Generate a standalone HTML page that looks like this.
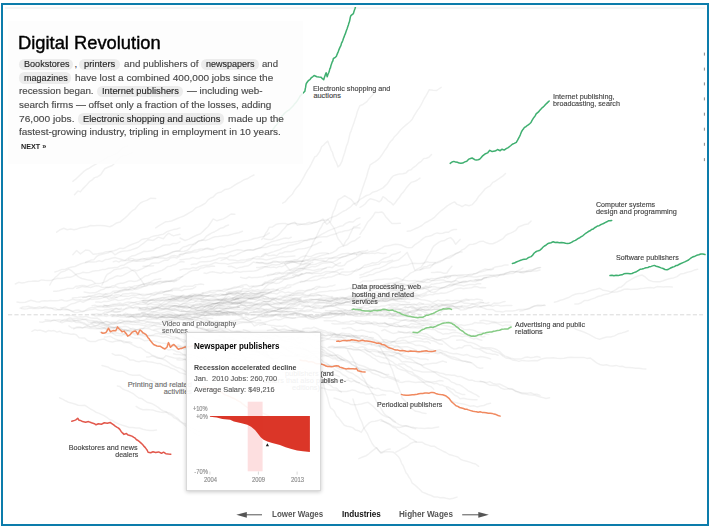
<!DOCTYPE html>
<html><head><meta charset="utf-8"><title>Digital Revolution</title>
<style>
html,body{margin:0;padding:0;background:#fff;}
body{width:710px;height:529px;position:relative;overflow:hidden;font-family:"Liberation Sans",sans-serif;}
#frame{position:absolute;left:1px;top:3px;width:704px;height:519px;border:2px solid #0c7cab;}
#topline{position:absolute;left:5px;top:7px;width:700px;height:1.6px;background:#f5f5f5;}
svg{position:absolute;left:0;top:0;}
.t{position:absolute;white-space:nowrap;display:block;-webkit-text-stroke:0.14px currentColor;}
.pill{position:absolute;background:#ececec;border-radius:5.5px;}
#panel{position:absolute;left:8px;top:21px;width:295.2px;height:142.8px;background:rgba(253,253,253,0.9);}
#tip{position:absolute;left:186px;top:332px;width:132.5px;height:157px;background:rgba(255,255,255,0.93);border:1px solid #d9d9d9;box-shadow:0 1px 4px rgba(0,0,0,0.22);box-sizing:content-box;}
.g{fill:none;stroke:#000;stroke-opacity:0.055;stroke-width:1.5;stroke-linejoin:round;stroke-linecap:round;}
.c{fill:none;stroke-width:1.5;stroke-linejoin:round;stroke-linecap:round;}
</style></head>
<body>
<div id="topline"></div>
<svg width="710" height="529" viewBox="0 0 710 529">
<defs><clipPath id="cp"><rect x="4" y="7" width="702" height="516"/></clipPath></defs>
<g clip-path="url(#cp)">
<g style="filter:blur(0.4px)">
<polyline class="g" points="72.8,181.4 75.7,179.2 78.5,176.5 81.3,173.9 84.2,171.1 86.8,169.3 89.3,168.2 91.9,166.3 94.5,164.8 97.7,163.1 100.8,161.4 104.0,159.7 107.2,157.1 110.6,156.1 114.0,154.6 117.4,153.1 120.1,150.3 122.7,148.0 125.3,146.4 128.0,146.0"/>
<polyline class="g" points="74.5,194.7 77.9,190.9 80.4,191.9 82.5,189.1 84.7,186.9 86.8,184.8 89.4,181.7 91.9,180.2 94.5,177.6 97.7,176.7 100.8,174.6 102.8,171.5 104.7,168.8 108.5,167.0 112.3,165.5 114.9,163.0 117.4,160.1 120.0,157.1 123.2,155.8 126.4,155.4 129.6,153.6 132.8,152.6"/>
<polyline class="g" points="56.7,232.2 60.2,229.7 63.8,228.2 67.2,229.7 70.6,229.0 74.0,229.7 77.4,228.9 80.8,227.7 84.2,227.2 87.4,226.7 90.6,225.5 93.8,225.7 97.0,225.6 100.8,225.6 104.7,225.7 109.8,226.7 113.2,225.2 116.6,222.9 120.0,222.1 122.6,219.9 125.1,217.9 127.7,215.5 130.2,212.7 132.8,210.3 135.3,208.8 137.9,205.5 140.4,203.0 143.0,201.6 146.8,200.4 150.6,198.2 155.7,198.5"/>
<polyline class="g" points="155.7,227.9 159.1,225.6 162.5,223.7 165.9,221.7 168.7,221.5 171.5,221.0 174.4,219.7 177.2,218.5 180.0,217.4 183.2,216.3 186.4,214.5 189.6,212.6 192.8,210.8 196.0,207.7 199.2,206.6 202.3,205.0 205.5,203.1 208.1,199.9 210.6,198.0 213.2,197.0 215.7,194.2 218.3,192.7 221.5,191.9 224.7,189.6 227.9,189.1 231.1,187.6 234.3,185.4 237.4,183.5 240.6,181.9 243.8,179.8 247.2,178.8 250.6,176.6 254.0,175.0"/>
<polyline class="g" points="72.8,254.7 76.6,250.5 80.4,253.9 83.0,252.0 85.5,250.1 89.4,250.5 93.2,254.2 97.7,253.7 102.1,253.1 105.9,251.7 109.8,251.4 112.3,252.3 114.9,254.8 118.1,252.8 121.3,251.5 124.5,251.1 127.7,250.7 131.1,249.9 134.5,248.7 137.9,247.5 140.4,245.5 143.0,243.7 145.6,241.5 148.1,239.7 153.2,240.4 158.3,237.1 163.4,238.7 165.9,235.6 168.5,233.2 171.1,234.7 173.6,235.9 176.8,234.9 180.0,234.3"/>
<polyline class="g" points="85.5,262.3 88.3,261.2 91.0,260.1 93.8,259.7 96.6,256.5 99.3,254.9 102.1,254.2 105.1,253.6 108.1,252.7 111.0,251.3 114.0,250.7 117.0,249.7 120.0,248.2 123.1,248.6 126.1,247.2 129.2,245.5 132.2,244.3 135.3,243.1 138.5,242.0 141.7,239.5 144.9,238.7 148.1,238.6 151.2,236.9 154.2,236.0 157.3,235.6 160.3,234.8 163.4,234.2 166.7,231.8 170.0,230.6 173.4,229.6 176.7,229.0 180.0,227.9"/>
<polyline class="g" points="54.9,272.0 58.4,270.9 61.9,269.4 65.4,269.3 68.9,267.8 72.0,267.0 75.0,266.5 78.1,265.0 81.1,263.8 84.2,262.9 87.2,262.3 90.2,261.7 93.2,262.0 96.1,261.8 99.1,260.7 102.1,261.6 105.3,259.6 108.5,259.3 111.7,258.2 114.9,257.5 118.3,258.6 121.7,259.4 125.1,260.4 128.3,258.1 131.5,256.1 134.7,255.6 137.9,254.0 141.0,252.7 144.0,251.3 147.1,251.5 150.1,250.9 153.2,250.6 156.4,248.5 159.6,247.4 162.7,245.6 165.9,245.1 169.4,245.1 172.9,243.5 176.5,243.6 180.0,241.9"/>
<polyline class="g" points="15.3,284.0 18.6,282.3 21.9,283.0 25.2,282.4 28.4,281.5 31.7,281.3 35.0,281.0 38.3,281.2 41.5,279.9 44.7,280.2 47.9,280.4 51.0,280.4 54.2,279.4 57.4,278.3 60.6,278.5 63.8,278.0 67.0,277.3 70.2,277.3 73.4,276.1 76.6,274.1 79.8,273.6 83.0,272.3 86.2,272.7 89.4,272.4 92.6,271.3 95.8,270.7 99.0,270.5 102.2,269.6 105.3,269.4 108.5,268.3 111.7,267.9 114.9,267.5 118.0,267.2 121.1,265.4 124.3,264.9 127.4,262.8 130.5,261.7 133.6,260.3 136.8,260.8 139.9,259.6 143.0,259.2 145.9,258.6 148.8,258.1 151.7,257.1 154.7,256.7 157.6,257.0 160.5,256.0 163.4,255.3 166.7,254.8 170.0,253.6 173.4,251.9 176.7,251.0 180.0,250.8"/>
<polyline class="g" points="49.8,285.0 52.3,280.5 54.9,277.7 57.0,276.0 59.2,273.7 61.3,271.9 65.1,270.9 68.9,269.1 72.1,271.2 75.3,274.1 78.5,276.9 81.7,278.5 85.0,279.2 88.3,280.1 91.7,280.6 95.0,283.0"/>
<polyline class="g" points="102.0,285.0 103.7,281.5 105.5,277.0 107.2,274.4 110.6,272.5 114.0,269.8 117.4,269.0 120.8,268.8 124.3,267.5 127.7,267.3 131.5,269.9 135.3,271.8 137.4,275.1 139.6,278.1 141.7,280.8 144.3,285.0"/>
<polyline class="g" points="143.0,266.2 146.1,266.2 149.1,265.4 152.2,263.2 155.2,263.1 158.3,263.1 161.4,261.6 164.4,260.2 167.5,260.3 170.5,257.9 173.6,257.2 176.8,258.0 180.0,256.0"/>
<polyline class="g" points="282.6,203.1 285.0,201.9 287.5,198.9 289.9,196.5 292.3,194.3 294.2,190.9 296.1,188.3 298.1,185.9 300.0,183.7 301.9,180.3 303.9,176.9 305.8,173.1 307.7,169.9 309.5,167.4 311.2,164.1 313.0,160.4 314.8,156.8 316.5,156.1 318.2,153.8 319.9,151.2 321.6,146.8 323.7,145.0 325.7,142.8 327.8,141.1 328.9,144.2 330.1,147.0 331.2,150.3 332.4,152.2 333.5,156.2 335.0,159.8 336.5,162.7 338.0,166.9 340.0,165.1 342.0,161.2 342.9,157.9 343.8,155.2 344.8,152.3 345.7,149.0 346.6,145.6 347.5,143.9 348.3,141.1 349.2,137.0 350.1,133.2 351.0,131.4 351.8,128.7 352.7,126.3 353.9,123.1 355.1,119.0 356.2,115.9 357.4,111.5 358.6,108.5 359.8,105.8 363.4,104.2 366.9,101.6 369.0,98.9 371.1,96.5 373.3,93.9 375.4,90.8"/>
<polyline class="g" points="180.0,238.0 185.0,240.5 188.9,239.1 192.8,237.0 196.6,235.2 200.4,233.8 203.0,231.4 205.5,228.9 208.1,226.5 209.8,224.0 211.5,221.5 213.2,218.9 217.0,220.8 220.2,219.8 223.4,218.9 227.2,216.6 231.1,214.0 234.9,214.3"/>
<polyline class="g" points="180.0,249.6 183.2,247.0 186.4,246.3 189.6,244.8 192.8,244.3 196.0,242.8 199.2,240.7 202.3,239.9 205.5,240.5 208.7,239.4 211.9,237.8 215.1,236.8 218.3,236.5 221.5,236.1 224.7,235.4 227.9,235.4 231.1,234.6 234.9,233.4 238.7,232.7 242.5,231.2"/>
<polyline class="g" points="180.0,254.7 182.9,254.7 185.8,252.8 188.7,251.8 191.7,251.4 194.6,250.2 197.5,249.8 200.4,249.0 204.0,248.9 207.6,248.0 211.1,248.9 214.7,248.5 218.3,247.4 221.3,246.5 224.3,247.2 227.2,245.7 230.2,245.3 233.2,244.9 236.2,243.9 239.2,242.1 242.1,241.4 245.1,240.8 248.1,240.5 251.0,239.7 254.0,238.5 257.4,238.0 260.8,237.1 264.2,236.1 269.4,233.0"/>
<polyline class="g" points="264.2,238.8 268.0,239.6 271.9,239.5 277.0,236.2 279.6,233.9 282.1,230.7 284.6,228.3 287.2,225.0 291.0,223.4 294.9,222.3 297.4,225.3 302.6,224.0 306.0,223.5 309.4,222.3 312.8,223.3 316.2,222.1 319.6,221.1 323.0,219.0 324.9,222.0 326.8,224.3 330.6,221.3 331.5,218.9 332.3,214.7 333.2,212.0 334.5,209.7 335.8,205.9 337.0,202.4 338.3,199.6 341.5,197.9 344.7,195.7 347.9,197.6 351.1,199.4 353.6,202.5 356.2,205.4 357.5,203.0 358.7,200.3 360.0,196.1 361.3,192.3 362.5,188.4 363.8,184.7 364.7,182.1 365.6,179.5 366.5,177.0 367.5,173.2 368.4,169.9 369.3,167.5 370.2,164.8 372.8,163.1 375.3,161.6 377.9,159.6 379.8,157.7 381.6,155.3 383.4,152.6 385.3,149.7 387.1,147.3 389.0,143.6 390.8,141.3 392.6,139.6 394.4,136.7 396.3,135.0 398.1,133.0 400.5,130.0 402.8,127.8 405.2,125.6 407.6,123.7 409.9,121.7 412.3,119.2 414.0,115.9 415.7,113.2 417.4,110.4 419.1,108.1 420.8,105.3 422.5,102.0 424.2,98.5 425.9,95.8 427.6,92.8 429.3,89.7 432.9,90.3 436.4,90.6 438.8,89.0 441.2,87.4"/>
<polyline class="g" points="261.7,239.4 263.6,237.3 265.5,233.5 267.5,230.7 269.4,227.2 272.6,226.9 275.8,224.6 278.9,223.8 282.1,223.6 285.3,223.6 288.5,224.4 291.7,223.5 294.9,223.3 298.1,223.7 301.3,224.2 304.5,224.5 307.7,224.5 310.8,223.8 313.8,222.2 316.9,222.2 319.9,220.7 323.0,220.2 326.4,220.1 329.8,218.2 333.2,216.8 336.4,215.7 339.6,213.7 342.8,211.5 346.0,210.1 348.3,208.4 350.7,206.8 353.0,204.2 355.3,203.3 357.7,201.9 360.0,199.4 363.2,197.6 366.4,195.5 369.6,194.6 372.8,192.2 376.2,191.3 379.6,189.6 383.0,187.9 385.0,185.9 387.1,184.0 389.1,181.1 391.2,178.0 393.2,175.9 396.4,174.8 399.6,173.9 402.8,173.7 406.0,172.9 408.5,170.4 411.1,169.7 413.6,167.3 416.2,165.6 418.7,163.0 421.3,161.3 423.8,158.6 426.4,158.3 428.9,157.3 431.5,154.6"/>
<polyline class="g" points="261.7,256.0 264.8,253.6 267.8,253.7 270.9,252.5 273.9,251.6 277.0,250.5 280.0,249.5 283.0,247.9 285.9,247.2 288.9,245.5 291.9,244.9 294.9,244.3 297.9,243.6 300.9,242.3 303.9,240.8 306.8,240.0 309.8,238.8 312.8,238.7 315.9,237.6 318.9,236.0 322.0,234.2 325.0,232.6 328.1,230.9 331.1,229.6 334.1,228.5 337.1,227.4 340.0,226.2 343.0,225.7 346.0,223.2 349.5,221.8 353.0,222.0 356.5,219.0 360.0,217.7"/>
<polyline class="g" points="300.0,264.9 301.9,261.8 303.9,258.8 305.8,255.4 307.7,252.3 309.6,249.1 311.5,246.3 313.4,241.8 315.3,238.5 316.8,235.8 318.4,232.3 319.9,229.0 321.5,226.8 323.0,223.4 325.6,221.5 328.1,219.3 329.8,221.9 331.5,224.6 333.2,226.9 334.5,229.2 335.8,232.6 337.0,236.2 338.3,239.1 340.9,242.3 343.4,246.0 345.1,242.4 346.8,239.9 348.5,237.9 350.2,233.8 351.9,230.3 353.6,226.7 356.8,226.2 360.0,224.0"/>
<polyline class="g" points="180.0,259.8 183.2,259.4 186.4,259.1 189.6,258.8 192.8,257.5 195.9,258.4 199.1,258.5 202.3,256.9 205.5,257.3 208.7,256.5 211.9,256.1 215.1,255.6 218.3,254.0 221.5,253.5 224.7,253.9 227.9,252.7 231.1,251.5 234.3,250.5 237.5,249.8 240.7,250.1 243.9,250.8 247.0,250.3 250.2,249.7 253.4,250.3 256.6,248.9 259.8,247.8 263.0,247.6 266.2,247.4 269.4,246.1 272.5,245.1 275.7,245.1 278.9,244.9 282.1,243.7 285.3,243.3 288.5,242.6 291.7,242.5 294.9,241.8 298.1,241.2 301.3,240.4 304.5,240.5 307.7,240.4 310.9,239.2 314.1,238.8 317.3,237.5 320.4,236.9 323.6,236.7 326.8,236.7 330.0,235.4 333.2,234.5 336.2,233.8 339.2,232.2 342.1,231.8 345.1,230.8 348.1,230.6 351.1,229.3 354.0,227.8 357.0,227.7 360.0,227.9"/>
<polyline class="g" points="284.7,263.6 287.2,267.1 289.8,270.0 293.2,268.4 296.6,267.5 300.0,265.4 303.2,264.4 306.4,263.7 309.6,263.4 312.8,262.3"/>
<polyline class="g" points="180.0,270.0 183.2,269.1 186.4,268.7 189.6,269.0 192.8,267.6 195.9,268.2 199.1,266.7 202.3,265.8 205.5,265.2 208.7,265.3 211.9,264.0 215.1,262.6 218.3,263.2 221.5,263.4 224.7,263.4 227.9,264.3 231.1,263.4 234.3,262.8 237.5,262.7 240.7,262.2 243.9,262.4 247.0,260.9 250.2,260.3 253.4,258.2 256.6,259.1 259.8,258.8 263.0,259.3 266.2,260.1 269.4,259.3 272.5,258.5 275.7,257.8 278.9,257.0 282.1,256.5 285.3,256.9 288.5,256.6 291.7,256.3 294.9,256.0"/>
<polyline class="g" points="256.6,267.4 259.8,267.5 263.0,266.7 266.2,266.5 269.4,265.7 272.5,264.5 275.7,265.1 278.9,264.6 282.1,263.4 285.3,263.6 288.5,263.1 291.7,261.6 294.9,262.2 298.1,261.7 301.3,261.5 304.5,260.9 307.7,260.1 310.9,258.1 314.1,258.0 317.3,257.0 320.4,255.8 323.6,255.1 326.8,254.1 330.0,253.5 333.2,252.2 335.9,250.6 338.6,247.9 341.2,246.6 343.9,245.8 346.6,245.1 349.3,243.1 352.0,241.4 354.6,240.8 357.3,238.7 360.0,236.8"/>
<polyline class="g" points="360.0,207.4 362.6,205.8 365.1,204.0 367.6,200.9 370.2,198.7 373.2,199.5 376.1,200.4 379.1,201.8 381.1,200.3 383.0,196.7 385.6,198.3 388.1,200.8 390.6,202.3 393.2,204.9 395.2,202.7 397.3,199.8 399.3,197.5 401.4,194.0 403.4,192.1 406.0,188.3 408.5,185.3 411.1,182.4 414.9,181.2 417.4,180.0 420.0,178.1"/>
<polyline class="g" points="360.0,234.3 361.9,231.3 363.9,228.9 365.8,225.3 367.7,222.1 370.2,219.5 372.8,216.3 375.3,212.2 378.5,212.5 381.7,211.9 383.6,213.3 385.5,216.4 387.6,218.8 389.8,221.3 391.9,223.6 396.1,223.4 400.3,223.3"/>
<polyline class="g" points="407.2,231.2 411.0,230.7 414.9,228.8 418.7,227.2 421.9,225.5 425.1,222.7 428.3,221.2 431.5,219.4 434.1,217.7 436.6,215.1 439.2,212.5 441.7,210.3 444.3,208.3 446.9,206.2 449.4,204.5 451.9,203.2 454.5,201.9 457.0,204.4 459.6,205.2 462.1,206.7 465.5,204.7 468.9,205.7 472.3,204.6 474.4,202.2 476.4,200.0 478.5,196.6 480.5,194.5 482.6,192.0 485.2,188.8 487.7,187.2 490.2,185.8 492.8,182.4 495.3,181.2 497.9,179.4 500.4,177.7 503.0,175.9 505.5,173.5"/>
<polyline class="g" points="360.0,275.0 363.2,274.2 366.4,272.5 369.6,271.7 372.8,269.8 376.0,268.5 379.1,268.3 382.3,266.9 385.5,265.3 388.7,263.2 391.9,261.7 395.1,260.8 398.3,260.1 401.3,257.7 404.2,255.2 407.2,252.4 409.1,256.9 411.1,260.1 412.4,263.1 413.6,267.0 414.9,270.3 418.1,268.7 421.3,267.1 422.9,264.5 424.5,262.4 426.1,260.0 427.7,256.7 429.3,254.3 430.9,251.5 432.4,248.1 434.0,245.8 436.6,243.9 439.1,242.1 441.7,240.9 444.7,240.4 447.6,238.6 450.6,237.6 453.1,240.0 455.7,244.3 460.1,239.4"/>
<polyline class="g" points="420.0,270.0 423.3,268.8 426.6,267.9 430.0,267.7 433.3,264.4 436.6,263.1 439.8,262.0 443.0,260.3 446.2,258.4 449.4,258.1 452.6,256.2 455.8,253.5 458.9,252.5 462.1,249.9 464.7,248.8 467.2,246.4 469.8,244.4 473.2,244.3 476.6,243.2 480.0,241.4 483.2,241.2 486.4,242.8 489.6,243.8 492.8,243.7 496.2,242.3 499.6,240.5 503.0,238.7 505.6,235.5 508.1,234.0 510.6,233.1 513.2,231.8 515.8,230.4 518.3,227.0 521.5,225.7 524.7,224.5 527.9,224.1 531.1,221.0"/>
<polyline class="g" points="360.0,277.7 363.2,276.6 366.4,276.2 369.6,274.8 372.8,274.5 375.9,272.8 379.1,272.0 382.3,270.7 385.5,270.0 388.7,268.8 391.9,267.3 395.1,267.5 398.3,266.9 401.5,265.8 404.7,265.2 407.9,264.9 411.1,263.4 414.3,263.2 417.5,263.5 420.7,263.5 423.9,263.0 427.0,261.7 430.2,262.6 433.4,262.6 436.6,262.4 439.4,261.1 442.3,260.1 445.1,258.7 447.9,257.1 450.8,255.8 453.6,254.7 456.4,253.5 459.3,252.1 462.1,252.1"/>
<polyline class="g" points="431.5,272.5 434.6,272.4 437.6,271.9 440.7,272.3 443.7,273.2 446.8,273.0 449.4,269.3 451.9,266.2"/>
<polyline class="g" points="444.3,277.7 447.9,276.3 451.4,275.8 455.0,275.7 458.5,275.1 462.1,274.8 465.5,274.7 468.9,274.4 472.4,274.0 475.8,273.4 479.2,272.3 482.6,271.5 485.8,270.5 489.0,269.5 492.2,268.7 495.4,267.0 498.5,266.5 501.7,266.0 504.9,264.9 508.1,264.9"/>
<polyline class="g" points="474.9,280.2 478.1,279.6 481.3,280.1 484.5,277.6 487.6,277.1 490.8,275.7 494.0,276.1 497.2,277.0 500.4,274.5 503.6,274.3 506.8,274.3 510.0,273.6 513.2,273.4 516.4,271.6 519.6,272.1 522.8,271.9 526.0,271.4 529.5,270.0 533.0,269.5 536.5,268.2 540.0,267.4"/>
<polyline class="g" points="360.0,282.8 363.1,280.9 366.1,280.9 369.2,280.9 372.2,280.9 375.3,279.9 378.4,279.5 381.4,279.4 384.5,278.9 387.5,279.0 390.6,279.3 393.7,278.5 396.7,277.7 399.8,278.8 402.9,280.1 406.0,280.6 409.0,281.0 412.1,280.7 415.2,280.5 418.2,281.5 421.3,281.2 424.4,279.7 427.4,279.0 430.5,280.2 433.5,280.4 436.6,278.8 439.7,277.5 442.7,277.1 445.8,276.0 448.8,276.2 451.9,275.4 455.0,274.9 458.0,276.1 461.1,275.8 464.2,276.2 467.2,276.4 470.3,276.5 473.4,277.0 476.5,276.9 479.5,276.2 482.6,275.8 485.7,275.3 488.7,275.1 491.8,275.2 494.8,275.1 497.9,275.1 501.0,274.6 504.0,273.7 507.1,272.9 510.1,271.5 513.2,271.5 516.6,271.8 519.9,272.0 523.2,271.5 526.6,271.1 530.0,271.4 533.3,270.9 536.6,270.9 540.0,270.0"/>
<polyline class="g" points="520.0,272.6 523.7,272.9 527.3,271.8 531.0,271.1 534.2,269.5 537.4,268.1 540.6,267.6"/>
<polyline class="g" points="554.3,302.2 557.3,301.5 560.3,300.3 563.4,299.5 566.4,298.2 569.4,297.2 572.7,295.2 576.0,294.0 579.2,293.5 582.5,293.5 585.8,292.4 589.2,291.0 592.6,290.1 596.1,289.2 599.5,288.2 603.2,290.3 606.8,290.7 610.5,291.7 613.9,292.2 617.4,291.7 620.8,290.7 624.2,289.3 627.5,289.1 630.8,289.6 634.0,289.2 637.3,289.3 640.6,288.5 643.9,288.3 647.2,287.7 650.5,287.6 653.8,288.0 657.1,286.6 660.1,286.7 663.1,287.0 666.2,286.7 669.2,286.7 672.2,287.1"/>
<polyline class="g" points="574.8,304.1 578.1,304.0 581.4,302.7 584.7,300.4 588.0,300.5 591.3,299.1 594.6,298.1 597.9,296.5 601.1,295.8 604.4,294.5 607.7,294.1 610.4,292.9 613.2,291.2 615.9,289.7 618.7,287.6 621.4,286.9 624.1,284.6 626.9,281.8 629.6,280.4 632.4,278.6 635.6,277.0 638.8,275.8 642.0,275.0 645.5,277.2 648.9,280.2 652.5,281.4 656.2,281.8 659.8,281.7 663.2,280.7 666.6,279.5 670.1,278.5 673.5,277.9 677.0,276.6 680.4,274.1 683.8,273.5 687.3,272.2 690.8,271.6 694.2,270.1 697.7,269.3"/>
<polyline class="g" points="520.0,311.0 523.4,310.4 526.9,309.1 530.3,307.8 533.7,306.2 537.5,305.1 541.4,305.3 545.2,305.5"/>
<polyline class="g" points="569.4,327.4 573.0,327.3 576.7,329.6 580.3,330.8 584.4,332.3 588.5,334.1 592.2,336.1 595.8,338.1 599.5,339.2 603.2,338.0 606.8,337.0 610.5,337.0 614.6,335.9 618.7,333.7 621.9,332.9 625.1,332.0 628.3,330.7"/>
<polyline class="g" points="480.0,348.6 483.2,348.3 486.5,349.0 489.7,349.2 493.0,351.0 496.2,352.0 499.4,353.1 502.7,355.8 505.9,358.0 509.2,358.4 512.4,359.9 515.7,360.4 518.9,361.4 522.1,360.4 525.4,360.8 528.6,361.1 531.6,360.8 534.6,360.5 537.6,360.7 540.6,359.3 543.6,358.6 546.6,357.9 549.6,357.9 553.2,357.8 556.9,358.3 560.6,358.4 564.2,358.3 567.5,357.6 570.7,357.2 574.0,357.6 577.2,357.6 580.4,357.6 583.7,357.4 586.9,358.4 590.1,357.9 593.4,360.3 596.6,362.9 599.9,364.5 603.1,365.2 606.4,364.7 609.6,365.7 612.8,366.0 616.1,365.4 619.3,366.4 622.5,366.3 625.8,367.6 629.0,367.5 632.3,367.8 635.7,368.3 639.1,368.3 642.5,368.8 645.9,369.0"/>
<polyline class="g" points="480.0,381.0 483.2,381.9 486.5,382.6 489.7,381.6 492.9,383.4 496.2,384.2 499.4,383.9 502.6,385.5 505.9,387.1 509.1,388.9 512.4,389.3 515.6,391.4 518.9,391.8 522.1,393.8 525.4,394.0 528.6,394.8 531.9,395.1 535.1,395.2 538.7,396.5 542.4,397.4 546.0,398.5 549.6,397.8"/>
<polyline class="g" points="480.0,321.0 483.2,320.3 486.5,320.8 489.8,321.3 493.0,321.7 496.6,322.3 500.1,322.4 503.7,322.1 507.2,322.1 510.8,322.0"/>
<polyline class="g" points="480.0,306.5 483.2,307.9 486.5,309.2 489.7,309.5 493.0,309.6 496.2,311.6 499.4,311.6 502.7,312.1 505.9,310.9 509.1,310.9 512.4,311.0 515.6,310.4 518.8,309.6 522.1,309.5 525.3,309.3 528.6,309.1 531.8,307.3 535.0,305.9 538.3,305.9 541.5,305.9 544.8,304.9"/>
<polyline class="g" points="59.5,397.8 62.5,399.1 65.5,400.8 68.4,402.2 71.4,403.0 74.8,404.0 78.2,405.2 81.6,405.5 85.0,405.3 87.7,407.2 90.4,409.0 93.2,410.4 95.9,412.2 98.6,413.1 101.3,414.4 104.0,415.6 106.8,417.4 109.5,419.5 112.2,420.4 115.6,422.6 119.1,424.1 122.5,425.2 125.9,426.2 129.3,427.5 132.7,427.6 136.1,427.9 139.5,428.0 142.9,429.2 146.3,430.1 149.7,430.4 153.1,430.5 156.5,430.1"/>
<polyline class="g" points="117.3,385.9 120.0,386.6 122.7,389.0 125.4,390.1 128.0,391.0 130.7,392.4 133.4,393.7 136.1,396.0 138.8,398.0 141.5,398.4 144.3,400.4 147.0,402.2 149.7,403.0 152.4,403.8 155.1,405.4 157.9,407.1 160.6,409.4 163.3,411.0 166.0,411.7 168.7,414.1 171.5,415.2 174.2,417.9 176.9,419.1 179.7,421.3 182.6,423.4 185.4,425.8 188.3,428.7 191.2,431.0 194.2,433.0 197.1,434.7 200.0,436.0"/>
<polyline class="g" points="102.0,365.5 104.8,366.2 107.7,366.9 110.5,368.7 113.3,369.5 116.2,370.5 119.0,371.3 122.4,371.2 125.8,372.9 129.3,374.6 132.7,375.3 136.1,375.3 139.5,375.0 142.9,376.8 146.3,378.9 149.7,380.0 153.1,381.4 156.5,382.7 159.9,383.5 163.3,383.4 166.7,384.4 170.1,385.2 173.2,385.3 176.2,386.5 179.3,387.3 182.3,389.0 185.4,390.9 188.7,391.5 191.9,391.8 195.2,394.3 198.5,395.8 201.7,397.7 205.0,398.0"/>
<polyline class="g" points="136.1,406.3 139.5,408.5 142.9,409.7 146.3,409.4 149.7,409.8 153.1,410.1 156.5,411.2 159.9,412.1 163.3,412.4 166.7,412.1 170.1,413.3 172.7,414.7 175.2,416.8 177.8,418.5 180.3,421.0 182.8,422.9 185.4,423.8 188.3,425.5 191.2,428.1 194.2,429.0 197.1,430.8 200.0,432.0"/>
<polyline class="g" points="112.2,353.6 115.2,355.2 118.2,355.0 121.2,355.3 124.2,356.6 127.1,357.8 130.1,360.1 133.1,359.9 136.1,361.2 139.1,361.8 142.1,360.9 145.0,361.0 148.0,361.8 151.0,362.1 153.9,362.6 156.9,363.4 159.9,363.4 162.7,364.9 165.6,365.7 168.4,366.7 171.2,368.3 174.1,369.1 176.9,370.6 179.7,372.6 182.6,373.4 185.4,374.2 188.5,375.3 191.6,375.6 194.6,376.9 197.7,376.7 200.8,377.9 203.8,378.3 206.9,378.7 210.0,380.0"/>
<polyline class="g" points="352.9,398.9 354.0,402.5 355.1,405.6 356.2,409.0 357.3,410.9 358.5,414.4 359.8,417.9 361.0,420.3 362.2,422.9 363.5,427.0 364.7,429.4 366.2,431.7 367.7,434.2 369.1,437.5 370.6,440.5 372.1,443.5 374.3,446.5 376.6,448.1 378.8,450.4 381.0,453.2 384.9,451.7 388.9,451.7 392.8,452.0 394.8,453.2 396.7,455.0 398.7,457.1 400.2,459.4 401.6,463.3 403.1,465.5 404.6,469.3 406.1,473.0 407.6,474.6 409.0,477.3 410.5,479.2 412.0,482.8 414.6,484.8 417.2,487.1 419.8,489.5 422.4,492.1 425.3,493.2 428.3,494.5 431.2,495.5 434.2,497.0 437.2,496.9 440.1,497.8 443.1,497.5 446.1,498.3 449.7,499.1 453.4,498.2 457.0,497.1"/>
<polyline class="g" points="320.4,374.3 321.3,376.9 322.3,379.3 323.2,382.5 324.1,386.4 325.0,389.8 326.0,392.8 326.9,395.4 327.8,398.1 328.7,402.3 329.7,405.5 330.6,407.9 332.6,409.3 334.5,411.6 336.5,416.0 338.4,417.6 340.4,420.2 342.3,422.8 344.3,425.2 347.1,426.2 350.0,426.7 352.8,427.6 355.6,430.1 358.5,430.7 361.3,432.4 363.3,429.0 365.2,426.7 367.2,424.7 369.2,422.9 372.1,421.4 375.1,421.2 378.1,420.6 381.0,419.4 384.0,421.7 386.9,423.1 389.9,424.8 392.8,427.3 395.8,428.2 398.8,431.1 401.7,433.2 404.7,434.3 407.6,436.2 410.6,438.6 413.5,439.9 416.5,442.3 419.4,442.2 422.4,442.3 425.4,444.3 428.3,445.1 431.2,446.2 434.2,446.2 437.2,448.1 440.1,449.6 443.1,451.2 446.0,452.5 449.0,454.5 452.0,455.3 454.9,456.1 457.9,457.0 460.8,459.5 463.8,460.6 466.8,461.2 469.7,462.1 472.7,463.3 475.6,464.0 478.6,466.3"/>
<polyline class="g" points="358.8,458.6 362.5,457.0 366.2,455.7 368.8,453.8 371.4,451.6 374.0,449.6 376.6,447.7 378.8,450.8 381.0,452.5 384.1,451.1 387.1,449.6 390.2,449.1"/>
<polyline class="g" points="381.0,421.1 384.0,421.4 386.9,422.8 389.9,424.0 392.8,426.0 395.8,426.9 399.5,427.4 403.2,426.5 406.9,425.7 410.6,426.9 414.1,427.5 417.7,428.0 421.2,428.2 424.8,428.6 428.3,428.1 431.8,428.3 435.2,427.4 438.7,427.0"/>
<polyline class="g" points="416.5,441.8 413.5,442.2 410.6,443.4 407.6,446.0 404.7,447.5 401.7,448.8 398.8,450.6 395.8,452.1"/>
<polyline class="g" points="334.0,398.1 337.4,399.0 340.8,400.1 344.3,402.0 347.7,402.7 351.1,404.6 354.5,404.7 357.9,404.5 361.3,404.0 364.7,403.0 368.1,402.3 370.7,404.4 373.2,406.4 375.8,409.0 378.3,411.3 381.1,414.0 384.0,415.8 386.8,417.0 389.6,417.5 392.5,419.6 395.3,421.9"/>
<polyline class="g" points="398.7,364.0 401.6,364.0 404.5,364.1 407.4,366.2 410.4,367.4 413.3,370.0 416.2,370.6 419.1,371.2 422.5,372.1 425.9,372.0 429.3,372.1 432.8,372.0 436.2,371.8 439.6,373.0 443.0,373.5 445.9,374.8 448.8,374.8 451.7,375.2 454.7,375.3 457.6,376.6 460.5,376.4 463.4,377.7 466.3,379.0 469.2,380.3 472.1,380.1 475.1,381.3 478.0,381.4 480.9,381.7 483.8,381.8 486.7,383.6 489.7,385.2 492.6,385.2 495.5,385.4 498.4,386.1 501.4,388.3 504.3,389.2 507.2,389.1 510.1,388.6 513.0,389.3 516.0,391.0 518.9,392.7 521.8,392.8 524.7,392.9 527.8,393.2 530.8,392.7 533.9,394.2 536.9,394.2 540.0,395.4"/>
<polyline class="g" points="436.2,350.4 439.6,349.8 443.0,351.2 446.4,351.7 449.8,353.1 453.2,353.8 456.6,353.5 460.0,354.4 463.4,355.3 466.8,354.4 470.2,356.0 473.6,356.7 477.0,357.4 480.4,356.6 483.8,357.0 487.2,357.7 490.6,358.9"/>
<polyline class="g" points="456.6,340.2 459.5,340.0 462.4,340.0 465.3,341.2 468.3,342.6 471.2,342.6 474.1,343.5 477.0,344.9 479.9,346.7 482.8,347.5 485.7,347.8 488.7,347.7 491.6,348.1 494.5,348.8 497.4,350.0 500.0,351.8 502.5,354.5 505.1,356.1 507.7,357.0 511.1,358.3 514.5,359.0 517.9,359.1 521.3,358.9 524.4,357.6 527.5,357.1 530.6,357.8 533.8,357.2 536.9,356.4 540.0,357.2"/>
<polyline class="g" points="446.4,387.9 449.1,390.4 451.8,392.6 454.6,395.2 457.3,396.3 460.0,398.8 463.4,398.3 466.8,399.1 470.2,399.4 473.6,399.8 477.0,399.8"/>
<polyline class="g" points="449.8,399.8 452.7,401.4 455.6,402.6 458.5,403.3 461.5,403.7 464.4,404.3 467.3,405.1 470.2,406.2 473.6,405.8 477.0,406.9 480.4,406.1 483.8,405.5 487.2,404.0 490.6,403.2"/>
<polyline class="g" points="334.0,369.1 336.9,370.8 339.9,372.0 342.8,374.8 345.7,376.0 348.6,378.3 351.6,378.5 354.5,380.5 357.4,382.1 360.3,383.5 363.2,385.1 366.2,386.3 369.1,387.5 372.0,387.5 374.9,388.7 377.9,388.2 380.8,389.7 383.8,390.6 386.8,391.0 389.8,391.1 392.8,391.5 395.7,393.2 398.7,393.0"/>
<polyline class="g" points="378.3,352.1 381.3,353.9 384.2,353.8 387.2,353.9 390.2,355.3 393.2,356.3 396.2,357.5 399.1,359.1 402.1,362.0 405.5,361.6 408.9,362.0 412.4,362.6 415.8,363.0 419.2,364.1 422.6,365.3 426.0,363.9 429.4,363.7 432.8,363.2 436.2,363.2 439.6,362.0 443.0,361.1 446.4,362.3"/>
<polyline class="g" points="317.0,343.6 319.6,345.6 322.1,347.2 324.6,347.5 327.2,349.5 329.8,351.1 332.3,352.4 334.8,354.2 337.4,356.8 340.3,358.7 343.3,360.1 346.2,361.9 349.1,362.9 352.0,364.4 355.0,365.9 357.9,367.7 360.8,368.5 363.7,369.4 366.6,370.3 369.6,370.9 372.5,373.3 375.4,374.2 378.3,375.1 381.3,376.9 384.2,377.8 387.2,377.1 390.2,378.2 393.2,379.3 396.2,380.9 399.1,381.9 402.1,382.5 405.5,381.6 408.9,381.3 412.4,381.9 415.8,382.5 419.2,382.1 422.6,382.3 426.0,382.0 429.4,382.0 432.8,382.0 436.2,381.5 439.6,380.6 443.0,381.1"/>
<polyline class="g" points="378.3,343.6 380.0,346.9 381.7,350.1 383.4,352.9 385.1,355.7 386.8,358.5 388.5,360.6 389.7,363.9 390.9,367.2 392.1,369.3 393.4,373.4 394.6,377.0 395.8,380.2 397.0,383.4 398.0,386.3 399.0,388.8 400.1,391.5 401.1,394.4 402.1,398.0 404.7,400.6 407.2,403.5 409.8,404.8 412.3,409.0 415.7,411.3 419.1,411.8 422.6,413.1 426.0,413.4"/>
<polyline class="g" points="347.7,350.4 349.2,353.0 350.7,355.6 352.2,357.9 353.7,360.8 355.3,363.5 356.8,366.4 358.3,368.6 359.8,371.4 361.3,374.2 362.8,377.2 364.3,379.2 365.8,382.2 367.3,385.4 368.9,388.2 370.4,390.4 371.9,392.7 373.4,395.2 374.9,398.4 376.6,401.9 378.3,404.3 380.0,406.6 381.7,409.6 383.4,412.5 385.1,414.7 387.8,416.5 390.5,418.7 393.3,421.3 396.0,422.7 398.7,424.4 402.1,425.7 405.5,425.8 408.9,426.9 412.3,427.9 415.7,428.7"/>
<polyline class="g" points="63.6,315.7 66.4,315.2 69.2,315.7 71.9,315.3 74.7,316.0 77.5,317.2 80.3,316.7 83.1,317.0 85.8,316.3 88.6,317.2 91.4,318.1 94.2,318.3 96.9,318.0 99.7,319.6 102.5,322.0 105.3,324.2 108.1,325.4 110.8,323.7 113.6,322.3 116.4,322.1 119.2,320.0 121.9,320.2 124.7,321.2 127.5,321.4 130.3,321.9 133.1,321.4 135.8,320.5 138.6,320.6 141.4,320.7 144.2,321.0 146.9,321.7 149.7,321.8 152.5,322.2 155.3,322.7 158.1,322.8 160.8,324.3 163.6,324.5"/>
<polyline class="g" points="103.0,306.6 105.8,305.5 108.6,305.8 111.3,305.8 114.1,304.7 116.9,304.8 119.7,304.6 122.5,304.9 125.2,304.4 128.0,304.4 130.8,303.1 133.6,302.4 136.3,303.3 139.1,304.2 141.9,304.3 144.7,304.0 147.5,305.0 150.2,303.2 153.0,302.3 155.8,302.3 158.6,302.1 161.3,300.6 164.1,298.9 166.9,299.9 169.7,299.7 172.5,298.8 175.2,298.6 178.0,299.0 180.8,296.7 183.6,297.5 186.3,297.7 189.1,295.8 191.9,296.2 194.7,294.7 197.5,295.4 200.2,295.3 203.0,296.5"/>
<polyline class="g" points="167.0,314.6 169.8,314.6 172.6,315.6 175.4,315.0 178.2,315.6 180.9,314.8 183.7,315.1 186.5,313.4 189.3,313.6 192.0,313.5 194.8,313.1 197.6,312.8 200.4,312.7 203.2,312.3 205.9,311.0 208.7,311.2 211.5,311.3 214.3,311.5 217.0,311.2 219.8,311.6 222.6,312.5 225.4,312.3 228.2,312.0 230.9,313.1 233.7,313.6 236.5,313.9 239.3,314.3 242.0,313.5 244.8,313.1 247.6,313.6 250.4,312.8 253.2,312.4 255.9,312.5 258.7,312.5 261.5,312.1 264.3,312.6 267.0,312.2"/>
<polyline class="g" points="202.1,292.7 204.8,292.6 207.6,291.6 210.4,290.8 213.2,290.4 215.9,290.6 218.7,290.3 221.5,290.6 224.3,289.2 227.1,289.3 229.8,289.3 232.6,288.5 235.4,288.1 238.2,286.9 240.9,285.6 243.7,285.0 246.5,284.5 249.3,286.7 252.1,286.0 254.8,287.0 257.6,286.4 260.4,285.5 263.2,284.7 265.9,282.7 268.7,282.2 271.5,281.4 274.3,279.4 277.1,279.3 279.8,279.1 282.6,278.7 285.4,279.1 288.2,277.8 290.9,277.4 293.7,277.1 296.5,275.6 299.3,275.8 302.1,274.0"/>
<polyline class="g" points="381.8,330.8 384.6,329.5 387.3,331.0 390.1,332.3 392.9,333.4 395.7,333.1 398.4,332.2 401.2,331.9 404.0,333.0 406.8,332.8 409.6,331.8 412.3,332.8 415.1,333.6 417.9,333.0 420.7,332.8 423.4,333.9 426.2,333.6 429.0,335.3 431.8,336.9 434.6,339.4 437.3,339.9 440.1,339.9 442.9,338.7 445.7,338.8 448.4,338.0 451.2,336.4 454.0,335.7 456.8,336.0 459.6,336.1 462.3,336.7 465.1,336.1 467.9,336.1 470.7,337.9 473.4,338.9 476.2,338.2 479.0,339.5 481.8,340.3"/>
<polyline class="g" points="168.3,321.2 171.0,320.6 173.8,322.2 176.6,322.6 179.4,322.1 182.1,322.9 184.9,323.3 187.7,324.7 190.5,325.0 193.3,325.6 196.0,327.7 198.8,328.1 201.6,328.7 204.4,329.7 207.1,330.2 209.9,331.8 212.7,332.0 215.5,333.0 218.3,335.8 221.0,335.8 223.8,336.5 226.6,338.1 229.4,337.7 232.1,337.4 234.9,338.5 237.7,340.8 240.5,342.2 243.3,343.1 246.0,343.7 248.8,347.0 251.6,348.3 254.4,348.6 257.1,350.9 259.9,352.8 262.7,353.0 265.5,352.8 268.3,355.6"/>
<polyline class="g" points="92.1,305.8 94.9,305.3 97.7,306.2 100.4,305.8 103.2,306.1 106.0,305.8 108.8,305.4 111.5,304.4 114.3,304.1 117.1,303.7 119.9,303.0 122.7,304.1 125.4,302.7 128.2,302.0 131.0,302.2 133.8,302.7 136.5,301.8 139.3,301.4 142.1,300.7 144.9,299.9 147.7,300.8 150.4,300.5 153.2,299.9 156.0,299.9 158.8,300.3 161.5,300.8 164.3,300.5 167.1,300.1 169.9,299.9 172.7,300.0 175.4,299.8 178.2,298.2 181.0,297.9 183.8,297.3 186.5,298.2 189.3,297.7 192.1,296.7"/>
<polyline class="g" points="95.8,302.1 98.6,302.0 101.3,302.4 104.1,301.3 106.9,301.6 109.7,300.9 112.4,300.0 115.2,299.3 118.0,300.5 120.8,300.2 123.6,299.8 126.3,298.6 129.1,299.0 131.9,297.5 134.7,296.9 137.4,297.7 140.2,298.5 143.0,298.1 145.8,298.4 148.6,297.5 151.3,295.6 154.1,295.3 156.9,294.1 159.7,293.6 162.4,293.2 165.2,291.7 168.0,291.2 170.8,290.1 173.6,289.9 176.3,289.9 179.1,290.0 181.9,290.8 184.7,289.4 187.4,289.3 190.2,288.9 193.0,288.4 195.8,286.7"/>
<polyline class="g" points="82.8,297.6 85.5,297.1 88.3,296.2 91.1,295.9 93.9,295.1 96.7,294.2 99.4,293.5 102.2,294.3 105.0,294.0 107.8,293.6 110.5,293.3 113.3,291.2 116.1,291.0 118.9,291.0 121.7,290.5 124.4,289.6 127.2,290.1 130.0,289.7 132.8,289.9 135.5,288.4 138.3,287.2 141.1,286.7 143.9,286.3 146.7,285.9 149.4,284.6 152.2,285.1 155.0,283.3 157.8,282.0 160.5,281.2 163.3,281.5 166.1,280.8 168.9,281.3 171.7,280.6 174.4,280.0 177.2,278.3 180.0,277.2 182.8,276.5"/>
<polyline class="g" points="208.1,306.8 210.9,306.6 213.6,306.0 216.4,306.0 219.2,305.6 222.0,305.9 224.8,306.6 227.5,306.8 230.3,306.8 233.1,307.0 235.9,306.7 238.6,306.0 241.4,304.7 244.2,306.0 247.0,306.3 249.8,305.0 252.5,305.7 255.3,305.8 258.1,305.9 260.9,306.0 263.6,305.3 266.4,304.1 269.2,303.6 272.0,304.3 274.8,303.6 277.5,302.8 280.3,303.0 283.1,304.5 285.9,303.7 288.6,304.3 291.4,304.1 294.2,304.1 297.0,304.7 299.8,303.5 302.5,303.1 305.3,302.6 308.1,302.8"/>
<polyline class="g" points="133.5,314.6 136.2,314.3 139.0,314.5 141.8,315.4 144.6,315.0 147.4,314.4 150.1,315.8 152.9,315.6 155.7,315.4 158.5,314.6 161.2,315.9 164.0,315.9 166.8,315.3 169.6,314.9 172.4,314.8 175.1,315.1 177.9,315.4 180.7,315.4 183.5,317.3 186.2,317.6 189.0,319.3 191.8,319.8 194.6,317.8 197.4,317.3 200.1,316.1 202.9,314.5 205.7,315.3 208.5,315.5 211.2,313.4 214.0,314.0 216.8,313.3 219.6,312.1 222.4,312.7 225.1,311.8 227.9,311.8 230.7,312.0 233.5,311.9"/>
<polyline class="g" points="309.7,299.8 312.5,299.7 315.3,299.6 318.1,299.4 320.8,300.0 323.6,300.6 326.4,300.4 329.2,301.3 332.0,301.6 334.7,302.2 337.5,302.8 340.3,303.4 343.1,302.8 345.8,302.2 348.6,302.4 351.4,303.6 354.2,302.2 357.0,303.2 359.7,302.9 362.5,303.3 365.3,303.2 368.1,302.5 370.8,301.7 373.6,301.5 376.4,301.9 379.2,301.2 382.0,301.5 384.7,301.2 387.5,301.0 390.3,300.5 393.1,299.8 395.8,300.8 398.6,301.4 401.4,301.4 404.2,301.5 407.0,302.4 409.7,302.5"/>
<polyline class="g" points="103.6,297.3 106.4,297.4 109.1,299.3 111.9,298.6 114.7,297.9 117.5,297.0 120.3,296.1 123.0,293.9 125.8,293.7 128.6,293.7 131.4,293.0 134.1,293.2 136.9,293.6 139.7,294.3 142.5,295.7 145.3,295.4 148.0,294.6 150.8,293.8 153.6,294.8 156.4,293.7 159.1,292.9 161.9,292.5 164.7,291.7 167.5,291.0 170.3,290.6 173.0,288.6 175.8,288.3 178.6,288.6 181.4,287.3 184.1,286.1 186.9,286.6 189.7,286.2 192.5,286.3 195.3,284.7 198.0,284.6 200.8,283.9 203.6,284.4"/>
<polyline class="g" points="151.9,307.2 154.7,306.3 157.5,306.0 160.3,304.8 163.0,306.1 165.8,306.0 168.6,305.7 171.4,305.9 174.1,305.7 176.9,306.7 179.7,307.5 182.5,307.6 185.3,307.5 188.0,307.7 190.8,307.6 193.6,307.3 196.4,308.0 199.1,308.2 201.9,308.7 204.7,309.6 207.5,310.2 210.3,308.9 213.0,308.4 215.8,306.2 218.6,305.0 221.4,305.0 224.1,304.2 226.9,303.4 229.7,303.0 232.5,303.4 235.3,302.5 238.0,303.1 240.8,303.9 243.6,302.4 246.4,302.9 249.1,303.4 251.9,302.4"/>
<polyline class="g" points="103.1,314.2 105.9,313.4 108.7,312.1 111.4,311.1 114.2,312.2 117.0,312.3 119.8,311.4 122.6,310.8 125.3,309.0 128.1,308.4 130.9,307.6 133.7,307.9 136.4,307.8 139.2,308.3 142.0,308.1 144.8,307.7 147.6,307.8 150.3,308.5 153.1,307.9 155.9,307.8 158.7,307.2 161.4,306.2 164.2,304.7 167.0,303.4 169.8,301.5 172.6,300.6 175.3,299.7 178.1,299.4 180.9,299.4 183.7,299.9 186.4,298.4 189.2,297.3 192.0,296.7 194.8,295.2 197.6,295.0 200.3,294.4 203.1,293.1"/>
<polyline class="g" points="111.9,316.6 114.7,316.4 117.4,316.4 120.2,315.1 123.0,314.5 125.8,313.1 128.6,314.7 131.3,315.7 134.1,314.8 136.9,313.9 139.7,313.8 142.4,312.7 145.2,313.3 148.0,314.4 150.8,312.5 153.6,311.7 156.3,312.3 159.1,312.9 161.9,312.8 164.7,312.3 167.4,311.6 170.2,311.1 173.0,310.2 175.8,309.5 178.6,309.0 181.3,309.9 184.1,308.1 186.9,308.7 189.7,307.4 192.4,306.5 195.2,305.2 198.0,305.1 200.8,305.8 203.6,305.7 206.3,305.8 209.1,305.2 211.9,305.5"/>
<polyline class="g" points="342.3,328.6 345.1,328.6 347.8,327.6 350.6,327.7 353.4,329.5 356.2,330.7 358.9,330.4 361.7,330.1 364.5,330.6 367.3,331.6 370.1,332.3 372.8,331.9 375.6,333.1 378.4,335.0 381.2,338.3 383.9,341.4 386.7,343.1 389.5,343.8 392.3,342.0 395.1,341.0 397.8,338.6 400.6,337.7 403.4,337.8 406.2,337.0 408.9,336.8 411.7,336.1 414.5,337.0 417.3,337.7 420.1,338.2 422.8,339.3 425.6,338.5 428.4,339.4 431.2,340.4 433.9,341.0 436.7,342.3 439.5,344.1 442.3,344.2"/>
<polyline class="g" points="92.6,314.5 95.4,316.1 98.2,315.7 101.0,315.5 103.7,315.8 106.5,316.4 109.3,315.4 112.1,315.7 114.9,315.3 117.6,316.0 120.4,317.0 123.2,317.0 126.0,317.0 128.7,317.3 131.5,315.8 134.3,317.6 137.1,319.2 139.9,320.2 142.6,320.4 145.4,319.8 148.2,319.2 151.0,319.4 153.7,318.7 156.5,319.3 159.3,317.3 162.1,317.2 164.9,317.8 167.6,318.1 170.4,317.2 173.2,317.3 176.0,318.6 178.7,318.0 181.5,317.7 184.3,317.5 187.1,317.7 189.9,318.7 192.6,319.5"/>
<polyline class="g" points="398.1,331.2 400.9,332.2 403.7,332.2 406.5,332.8 409.2,332.8 412.0,333.8 414.8,335.0 417.6,335.2 420.4,335.2 423.1,336.1 425.9,336.5 428.7,337.7 431.5,338.1 434.2,338.6 437.0,339.8 439.8,340.1 442.6,340.7 445.4,343.2 448.1,345.3 450.9,347.5 453.7,348.9 456.5,348.8 459.2,347.5 462.0,347.9 464.8,345.7 467.6,345.6 470.4,345.5 473.1,347.9 475.9,348.4 478.7,349.1 481.5,350.4 484.2,352.0 487.0,353.2 489.8,353.6 492.6,354.3 495.4,354.2 498.1,355.3"/>
<polyline class="g" points="301.5,306.0 304.3,306.4 307.1,306.3 309.9,306.8 312.7,306.9 315.4,305.4 318.2,305.4 321.0,306.1 323.8,306.3 326.5,305.3 329.3,305.9 332.1,305.7 334.9,305.4 337.7,304.2 340.4,303.9 343.2,303.8 346.0,301.9 348.8,301.5 351.5,300.5 354.3,299.5 357.1,300.0 359.9,300.8 362.7,300.6 365.4,299.4 368.2,298.5 371.0,299.3 373.8,299.2 376.5,299.3 379.3,299.0 382.1,298.9 384.9,298.3 387.7,297.8 390.4,296.8 393.2,297.0 396.0,297.0 398.8,297.8 401.5,299.1"/>
<polyline class="g" points="326.5,303.1 329.3,303.5 332.0,303.9 334.8,303.8 337.6,302.2 340.4,302.1 343.1,300.8 345.9,300.0 348.7,299.4 351.5,298.6 354.3,298.1 357.0,299.4 359.8,299.3 362.6,300.6 365.4,300.9 368.1,300.1 370.9,300.3 373.7,301.7 376.5,301.9 379.3,300.6 382.0,299.2 384.8,299.1 387.6,298.6 390.4,297.7 393.1,298.0 395.9,297.5 398.7,296.3 401.5,295.1 404.3,293.7 407.0,295.6 409.8,295.6 412.6,296.5 415.4,296.1 418.1,295.7 420.9,295.4 423.7,295.2 426.5,293.9"/>
<polyline class="g" points="313.0,307.1 315.8,307.0 318.6,306.8 321.3,308.5 324.1,306.7 326.9,306.3 329.7,305.3 332.5,306.3 335.2,305.3 338.0,305.2 340.8,305.3 343.6,304.9 346.3,304.9 349.1,305.0 351.9,305.4 354.7,306.1 357.5,307.4 360.2,307.6 363.0,306.4 365.8,305.0 368.6,305.1 371.3,302.7 374.1,301.4 376.9,300.5 379.7,300.2 382.5,300.5 385.2,299.6 388.0,299.5 390.8,299.5 393.6,300.1 396.3,299.0 399.1,298.0 401.9,298.0 404.7,297.4 407.5,296.5 410.2,295.8 413.0,296.3"/>
<polyline class="g" points="259.9,325.4 262.7,324.6 265.5,324.1 268.3,324.9 271.0,325.6 273.8,325.5 276.6,326.3 279.4,326.1 282.2,326.6 284.9,325.5 287.7,326.6 290.5,328.3 293.3,329.1 296.0,329.5 298.8,330.6 301.6,331.6 304.4,332.6 307.2,333.1 309.9,333.3 312.7,332.5 315.5,331.8 318.3,331.1 321.0,331.5 323.8,332.5 326.6,333.1 329.4,333.4 332.2,334.5 334.9,333.9 337.7,335.5 340.5,334.1 343.3,335.0 346.0,335.4 348.8,336.0 351.6,335.3 354.4,336.7 357.2,337.3 359.9,337.8"/>
<polyline class="g" points="53.6,291.2 56.4,291.3 59.2,290.7 62.0,290.0 64.7,289.6 67.5,288.4 70.3,288.6 73.1,288.5 75.8,286.3 78.6,286.1 81.4,285.4 84.2,285.5 87.0,286.4 89.7,285.3 92.5,284.6 95.3,283.5 98.1,283.4 100.8,283.2 103.6,282.4 106.4,281.3 109.2,279.3 112.0,278.3 114.7,276.8 117.5,275.8 120.3,276.2 123.1,275.4 125.8,273.9 128.6,272.4 131.4,270.7 134.2,269.9 137.0,270.8 139.7,269.7 142.5,268.6 145.3,267.0 148.1,266.0 150.8,265.9 153.6,265.7"/>
<polyline class="g" points="163.6,294.7 166.4,294.4 169.2,294.7 171.9,295.3 174.7,296.3 177.5,297.0 180.3,296.9 183.1,295.0 185.8,296.2 188.6,296.3 191.4,295.7 194.2,296.5 196.9,295.7 199.7,295.5 202.5,295.6 205.3,295.7 208.1,295.7 210.8,294.4 213.6,293.9 216.4,294.3 219.2,295.2 221.9,295.4 224.7,294.7 227.5,294.2 230.3,293.9 233.1,295.2 235.8,294.8 238.6,295.7 241.4,295.1 244.2,294.7 246.9,294.7 249.7,296.1 252.5,295.7 255.3,295.8 258.1,295.6 260.8,295.6 263.6,296.6"/>
<polyline class="g" points="195.2,310.0 198.0,310.1 200.8,310.5 203.5,311.2 206.3,311.7 209.1,311.1 211.9,310.5 214.7,309.9 217.4,311.7 220.2,311.0 223.0,312.1 225.8,312.5 228.5,313.3 231.3,312.3 234.1,313.3 236.9,314.6 239.7,316.0 242.4,318.0 245.2,318.8 248.0,320.6 250.8,319.4 253.5,318.1 256.3,317.4 259.1,316.5 261.9,316.8 264.7,316.3 267.4,315.3 270.2,315.6 273.0,316.1 275.8,315.0 278.5,316.0 281.3,317.0 284.1,316.5 286.9,317.3 289.7,317.4 292.4,318.1 295.2,317.7"/>
<polyline class="g" points="17.0,302.1 19.8,302.6 22.6,302.6 25.4,302.2 28.1,301.2 30.9,300.3 33.7,300.9 36.5,301.8 39.3,302.0 42.0,300.9 44.8,300.8 47.6,301.0 50.4,300.4 53.1,300.8 55.9,300.8 58.7,300.4 61.5,299.8 64.3,300.7 67.0,301.0 69.8,300.2 72.6,299.3 75.4,299.9 78.1,300.1 80.9,299.6 83.7,300.4 86.5,299.8 89.3,298.7 92.0,299.4 94.8,298.9 97.6,298.9 100.4,298.6 103.1,297.6 105.9,296.7 108.7,296.6 111.5,297.6 114.3,296.6 117.0,297.5"/>
<polyline class="g" points="178.3,306.4 181.1,306.4 183.9,305.9 186.7,304.8 189.4,304.8 192.2,304.9 195.0,304.4 197.8,303.5 200.6,303.6 203.3,302.2 206.1,302.6 208.9,302.8 211.7,303.6 214.4,303.5 217.2,303.0 220.0,302.5 222.8,302.0 225.6,300.7 228.3,301.5 231.1,301.2 233.9,300.0 236.7,298.3 239.4,298.5 242.2,297.8 245.0,296.1 247.8,295.9 250.6,296.4 253.3,295.4 256.1,294.8 258.9,293.6 261.7,292.4 264.4,292.5 267.2,293.7 270.0,292.5 272.8,291.3 275.6,290.8 278.3,289.5"/>
<polyline class="g" points="385.6,300.0 388.3,298.3 391.1,298.2 393.9,298.6 396.7,299.1 399.5,298.9 402.2,297.8 405.0,298.0 407.8,296.5 410.6,296.4 413.3,295.2 416.1,296.1 418.9,296.1 421.7,297.1 424.5,296.1 427.2,295.3 430.0,294.4 432.8,294.8 435.6,293.5 438.3,293.8 441.1,293.1 443.9,293.3 446.7,292.8 449.5,291.6 452.2,290.8 455.0,289.2 457.8,288.4 460.6,288.0 463.3,288.7 466.1,288.2 468.9,288.1 471.7,287.7 474.5,286.5 477.2,286.8 480.0,287.8 482.8,287.6 485.6,287.8"/>
<polyline class="g" points="308.1,316.0 310.9,317.2 313.7,317.7 316.4,318.4 319.2,317.7 322.0,317.3 324.8,317.8 327.6,317.7 330.3,317.7 333.1,316.7 335.9,315.8 338.7,315.0 341.4,315.7 344.2,314.7 347.0,314.6 349.8,314.6 352.6,314.3 355.3,313.8 358.1,314.0 360.9,313.2 363.7,313.2 366.4,314.0 369.2,313.2 372.0,313.7 374.8,314.2 377.6,314.8 380.3,313.4 383.1,314.1 385.9,314.1 388.7,314.3 391.4,314.1 394.2,313.1 397.0,313.0 399.8,312.4 402.6,311.4 405.3,310.6 408.1,310.0"/>
<polyline class="g" points="253.4,311.8 256.1,311.5 258.9,310.7 261.7,310.7 264.5,310.1 267.3,311.3 270.0,309.7 272.8,310.1 275.6,311.2 278.4,311.7 281.1,312.3 283.9,311.5 286.7,311.3 289.5,311.4 292.3,312.0 295.0,312.6 297.8,313.9 300.6,313.2 303.4,314.4 306.1,317.0 308.9,318.6 311.7,318.9 314.5,318.9 317.3,317.4 320.0,317.0 322.8,315.3 325.6,315.1 328.4,314.8 331.1,313.9 333.9,314.0 336.7,314.0 339.5,313.6 342.3,313.8 345.0,313.4 347.8,314.4 350.6,314.8 353.4,315.5"/>
<polyline class="g" points="216.0,313.8 218.7,313.7 221.5,313.1 224.3,314.0 227.1,314.2 229.8,314.5 232.6,314.9 235.4,314.4 238.2,314.9 241.0,313.4 243.7,312.9 246.5,313.0 249.3,314.2 252.1,314.7 254.8,314.8 257.6,314.9 260.4,314.0 263.2,313.5 266.0,312.7 268.7,312.6 271.5,311.6 274.3,311.4 277.1,311.0 279.8,311.4 282.6,310.9 285.4,311.2 288.2,311.4 291.0,311.5 293.7,311.8 296.5,310.7 299.3,310.6 302.1,310.3 304.8,310.8 307.6,310.1 310.4,310.1 313.2,308.9 316.0,308.6"/>
<polyline class="g" points="91.3,314.3 94.1,314.3 96.9,313.8 99.7,314.2 102.4,313.7 105.2,312.0 108.0,312.1 110.8,311.8 113.6,309.7 116.3,308.5 119.1,309.6 121.9,309.6 124.7,308.9 127.4,307.5 130.2,306.8 133.0,308.1 135.8,306.4 138.6,307.2 141.3,309.3 144.1,309.5 146.9,308.9 149.7,309.1 152.4,308.8 155.2,308.0 158.0,306.6 160.8,304.5 163.6,304.3 166.3,304.3 169.1,304.0 171.9,303.8 174.7,303.3 177.4,303.4 180.2,305.0 183.0,303.5 185.8,302.8 188.6,301.1 191.3,299.4"/>
<polyline class="g" points="405.1,307.3 407.9,307.7 410.7,307.1 413.5,307.2 416.3,308.0 419.0,307.3 421.8,307.0 424.6,306.4 427.4,307.1 430.1,305.4 432.9,306.5 435.7,305.6 438.5,306.3 441.3,305.1 444.0,304.7 446.8,304.7 449.6,305.9 452.4,305.7 455.1,307.5 457.9,308.3 460.7,310.1 463.5,309.7 466.3,309.2 469.0,307.7 471.8,307.7 474.6,306.3 477.4,305.6 480.1,306.5 482.9,306.0 485.7,306.0 488.5,305.0 491.3,304.9 494.0,303.1 496.8,303.3 499.6,303.0 502.4,302.1 505.1,301.5"/>
<polyline class="g" points="240.6,277.2 243.3,278.1 246.1,278.5 248.9,277.0 251.7,277.7 254.5,277.4 257.2,277.4 260.0,277.0 262.8,276.8 265.6,275.7 268.3,274.8 271.1,274.2 273.9,273.9 276.7,274.2 279.5,273.1 282.2,274.1 285.0,273.3 287.8,272.7 290.6,273.1 293.3,273.2 296.1,272.6 298.9,271.5 301.7,270.4 304.5,269.0 307.2,269.5 310.0,269.8 312.8,270.5 315.6,269.9 318.3,269.3 321.1,269.0 323.9,268.7 326.7,267.6 329.5,267.0 332.2,267.7 335.0,265.4 337.8,263.8 340.6,262.7"/>
<polyline class="g" points="380.7,288.5 383.5,288.3 386.2,288.9 389.0,288.3 391.8,288.3 394.6,287.6 397.3,287.4 400.1,287.6 402.9,286.2 405.7,286.0 408.5,285.6 411.2,286.0 414.0,287.6 416.8,286.9 419.6,287.2 422.3,287.7 425.1,288.5 427.9,289.7 430.7,292.0 433.5,292.5 436.2,291.5 439.0,289.4 441.8,287.5 444.6,287.2 447.3,285.8 450.1,284.3 452.9,284.0 455.7,284.5 458.5,285.1 461.2,285.3 464.0,285.9 466.8,285.0 469.6,284.5 472.3,284.5 475.1,284.8 477.9,283.5 480.7,283.8"/>
<polyline class="g" points="139.7,307.7 142.5,307.8 145.3,307.6 148.0,306.5 150.8,306.4 153.6,307.7 156.4,307.3 159.1,308.1 161.9,306.2 164.7,307.3 167.5,306.5 170.3,305.6 173.0,305.7 175.8,305.4 178.6,307.0 181.4,306.9 184.1,307.0 186.9,306.9 189.7,307.9 192.5,308.9 195.3,309.3 198.0,307.7 200.8,307.2 203.6,307.4 206.4,305.8 209.1,305.9 211.9,306.8 214.7,307.8 217.5,307.9 220.3,308.2 223.0,308.5 225.8,308.3 228.6,306.6 231.4,308.0 234.1,308.2 236.9,307.8 239.7,307.0"/>
<polyline class="g" points="138.5,310.1 141.3,310.4 144.0,310.8 146.8,309.9 149.6,310.2 152.4,308.9 155.2,308.8 157.9,308.0 160.7,308.6 163.5,309.3 166.3,307.9 169.0,307.8 171.8,307.0 174.6,305.8 177.4,305.8 180.2,306.5 182.9,307.1 185.7,306.6 188.5,306.7 191.3,308.3 194.0,308.6 196.8,309.9 199.6,310.4 202.4,309.2 205.2,306.8 207.9,305.2 210.7,304.7 213.5,303.7 216.3,303.1 219.0,302.9 221.8,301.3 224.6,300.8 227.4,300.4 230.2,299.7 232.9,299.8 235.7,299.4 238.5,299.0"/>
<polyline class="g" points="393.4,283.7 396.2,284.3 398.9,284.4 401.7,283.6 404.5,284.1 407.3,285.2 410.1,283.8 412.8,283.3 415.6,282.3 418.4,281.0 421.2,281.6 423.9,282.0 426.7,282.4 429.5,282.3 432.3,280.5 435.1,280.5 437.8,280.2 440.6,279.9 443.4,280.0 446.2,281.4 448.9,281.4 451.7,282.3 454.5,281.3 457.3,278.3 460.1,277.8 462.8,277.6 465.6,276.6 468.4,275.0 471.2,275.6 473.9,273.9 476.7,273.3 479.5,271.4 482.3,270.2 485.1,268.9 487.8,269.6 490.6,270.1 493.4,269.1"/>
<polyline class="g" points="67.0,319.1 69.8,317.6 72.5,318.5 75.3,318.3 78.1,318.7 80.9,318.8 83.6,319.5 86.4,319.2 89.2,320.5 92.0,320.5 94.8,320.9 97.5,321.3 100.3,322.0 103.1,322.4 105.9,321.4 108.6,321.7 111.4,323.7 114.2,323.9 117.0,323.8 119.8,323.3 122.5,322.0 125.3,321.0 128.1,320.4 130.9,321.3 133.6,321.5 136.4,322.6 139.2,322.6 142.0,323.5 144.8,323.2 147.5,321.9 150.3,323.0 153.1,322.8 155.9,323.2 158.6,322.9 161.4,322.3 164.2,322.2 167.0,321.3"/>
<polyline class="g" points="160.8,317.8 163.6,317.5 166.4,317.8 169.2,317.6 172.0,317.2 174.7,317.3 177.5,316.3 180.3,316.9 183.1,316.9 185.8,316.3 188.6,316.4 191.4,317.2 194.2,316.9 197.0,317.5 199.7,318.1 202.5,319.5 205.3,319.1 208.1,320.2 210.8,322.3 213.6,325.2 216.4,326.3 219.2,326.7 222.0,324.3 224.7,322.2 227.5,321.9 230.3,320.4 233.1,321.3 235.8,320.2 238.6,319.8 241.4,318.7 244.2,319.5 247.0,319.8 249.7,321.4 252.5,321.3 255.3,320.9 258.1,319.9 260.8,320.2"/>
<polyline class="g" points="226.3,293.0 229.1,291.8 231.8,291.7 234.6,291.4 237.4,291.6 240.2,291.8 243.0,288.7 245.7,288.7 248.5,289.3 251.3,287.8 254.1,285.9 256.8,285.7 259.6,285.5 262.4,285.2 265.2,283.7 268.0,283.0 270.7,282.7 273.5,282.7 276.3,283.6 279.1,282.9 281.8,281.5 284.6,279.1 287.4,279.3 290.2,278.4 293.0,277.5 295.7,276.0 298.5,275.9 301.3,273.9 304.1,273.6 306.8,273.1 309.6,272.7 312.4,272.9 315.2,271.9 318.0,271.1 320.7,270.8 323.5,268.7 326.3,267.9"/>
<polyline class="g" points="383.4,312.6 386.2,312.3 389.0,312.5 391.8,314.0 394.5,313.4 397.3,313.3 400.1,312.7 402.9,312.3 405.6,312.4 408.4,312.9 411.2,311.6 414.0,310.9 416.8,310.7 419.5,310.0 422.3,311.4 425.1,312.2 427.9,313.5 430.6,314.4 433.4,313.9 436.2,314.4 439.0,313.3 441.8,311.4 444.5,309.3 447.3,307.5 450.1,306.6 452.9,306.5 455.6,307.1 458.4,306.2 461.2,306.4 464.0,306.1 466.8,306.2 469.5,305.5 472.3,304.0 475.1,304.5 477.9,304.4 480.6,302.9 483.4,302.5"/>
<polyline class="g" points="323.3,308.3 326.1,307.0 328.8,306.5 331.6,305.9 334.4,306.6 337.2,307.5 339.9,308.9 342.7,308.9 345.5,310.2 348.3,310.8 351.1,310.0 353.8,309.0 356.6,308.9 359.4,308.2 362.2,307.8 364.9,307.9 367.7,308.3 370.5,306.7 373.3,306.9 376.1,306.7 378.8,307.0 381.6,305.9 384.4,306.1 387.2,305.1 389.9,304.4 392.7,303.8 395.5,304.1 398.3,303.8 401.1,304.7 403.8,304.7 406.6,304.2 409.4,304.6 412.2,305.2 414.9,304.6 417.7,305.2 420.5,304.6 423.3,304.0"/>
<polyline class="g" points="231.3,303.1 234.1,303.5 236.9,304.0 239.6,302.4 242.4,302.9 245.2,303.2 248.0,302.5 250.8,303.6 253.5,303.8 256.3,304.2 259.1,304.9 261.9,304.2 264.6,304.1 267.4,304.1 270.2,305.3 273.0,306.8 275.8,307.2 278.5,307.9 281.3,307.9 284.1,307.8 286.9,305.8 289.6,303.8 292.4,303.8 295.2,302.5 298.0,302.7 300.8,301.1 303.5,302.0 306.3,301.2 309.1,302.6 311.9,302.8 314.6,303.2 317.4,302.4 320.2,302.8 323.0,302.5 325.8,303.2 328.5,302.8 331.3,302.7"/>
<polyline class="g" points="146.3,318.3 149.1,316.8 151.8,318.1 154.6,317.8 157.4,317.5 160.2,317.7 162.9,317.1 165.7,316.8 168.5,316.6 171.3,317.6 174.1,317.3 176.8,316.1 179.6,315.6 182.4,313.7 185.2,314.3 187.9,313.0 190.7,312.4 193.5,312.4 196.3,312.9 199.1,312.8 201.8,312.8 204.6,312.4 207.4,310.2 210.2,309.2 212.9,308.8 215.7,308.5 218.5,306.9 221.3,305.5 224.1,305.8 226.8,304.9 229.6,305.3 232.4,303.9 235.2,303.6 237.9,302.8 240.7,302.2 243.5,302.1 246.3,301.3"/>
<polyline class="g" points="249.9,312.5 252.6,311.9 255.4,311.9 258.2,312.0 261.0,311.7 263.7,311.1 266.5,310.9 269.3,312.5 272.1,311.3 274.9,310.2 277.6,309.4 280.4,308.5 283.2,308.3 286.0,307.7 288.7,307.9 291.5,307.9 294.3,308.5 297.1,308.5 299.9,308.7 302.6,308.9 305.4,306.7 308.2,306.5 311.0,305.7 313.7,304.3 316.5,303.7 319.3,302.7 322.1,302.8 324.9,302.6 327.6,301.1 330.4,301.3 333.2,299.7 336.0,299.7 338.7,300.6 341.5,300.6 344.3,298.9 347.1,299.2 349.9,299.5"/>
<polyline class="g" points="289.1,295.5 291.9,295.9 294.7,294.4 297.4,293.6 300.2,293.6 303.0,293.7 305.8,295.0 308.6,295.4 311.3,293.7 314.1,293.8 316.9,292.7 319.7,292.0 322.4,291.7 325.2,291.4 328.0,291.3 330.8,290.6 333.6,290.9 336.3,290.4 339.1,290.0 341.9,289.4 344.7,289.5 347.4,288.7 350.2,287.9 353.0,288.4 355.8,288.4 358.6,288.3 361.3,288.0 364.1,286.9 366.9,285.8 369.7,286.5 372.4,286.3 375.2,286.4 378.0,286.1 380.8,286.4 383.6,285.2 386.3,285.6 389.1,283.7"/>
<polyline class="g" points="235.1,299.5 237.9,298.7 240.7,298.9 243.5,298.9 246.3,298.4 249.0,298.2 251.8,297.2 254.6,296.7 257.4,296.8 260.1,296.4 262.9,294.1 265.7,294.2 268.5,293.6 271.3,293.2 274.0,293.2 276.8,294.1 279.6,292.3 282.4,291.6 285.1,292.9 287.9,292.1 290.7,292.8 293.5,293.0 296.3,291.3 299.0,290.5 301.8,290.5 304.6,291.0 307.4,290.1 310.1,289.6 312.9,288.6 315.7,289.6 318.5,287.5 321.3,287.2 324.0,287.3 326.8,287.0 329.6,286.1 332.4,285.9 335.1,284.9"/>
<polyline class="g" points="325.5,310.4 328.3,311.0 331.1,310.7 333.9,310.9 336.7,310.3 339.4,310.8 342.2,311.1 345.0,311.2 347.8,312.2 350.5,310.8 353.3,311.3 356.1,310.5 358.9,310.3 361.7,312.4 364.4,313.1 367.2,314.0 370.0,313.0 372.8,312.6 375.5,313.6 378.3,314.2 381.1,315.2 383.9,315.4 386.7,315.8 389.4,316.2 392.2,316.2 395.0,315.3 397.8,316.3 400.5,316.2 403.3,316.4 406.1,316.5 408.9,317.3 411.7,317.2 414.4,316.6 417.2,317.2 420.0,318.3 422.8,318.2 425.5,319.4"/>
<polyline class="g" points="283.2,300.3 285.9,300.8 288.7,300.7 291.5,300.6 294.3,300.3 297.1,300.7 299.8,300.6 302.6,300.5 305.4,300.1 308.2,299.8 310.9,299.0 313.7,299.5 316.5,299.5 319.3,299.2 322.1,299.5 324.8,300.0 327.6,300.5 330.4,300.3 333.2,300.7 335.9,301.0 338.7,299.2 341.5,298.2 344.3,298.7 347.1,298.7 349.8,298.9 352.6,299.4 355.4,298.3 358.2,298.3 360.9,298.8 363.7,297.6 366.5,298.5 369.3,296.7 372.1,296.4 374.8,297.9 377.6,297.2 380.4,296.9 383.2,296.8"/>
<polyline class="g" points="20.1,308.2 22.9,307.0 25.7,306.7 28.5,306.3 31.2,307.1 34.0,307.7 36.8,307.4 39.6,306.8 42.4,307.7 45.1,306.5 47.9,307.5 50.7,307.7 53.5,309.4 56.2,310.0 59.0,309.5 61.8,309.5 64.6,309.7 67.4,309.7 70.1,310.3 72.9,311.3 75.7,310.2 78.5,310.0 81.2,311.0 84.0,311.2 86.8,310.4 89.6,309.8 92.4,309.5 95.1,308.7 97.9,310.1 100.7,310.4 103.5,310.2 106.2,309.6 109.0,309.8 111.8,310.0 114.6,311.7 117.4,311.5 120.1,311.8"/>
<polyline class="g" points="350.7,289.0 353.5,289.7 356.3,289.3 359.0,288.6 361.8,288.4 364.6,288.5 367.4,288.0 370.2,287.8 372.9,287.8 375.7,287.8 378.5,286.9 381.3,286.6 384.0,284.6 386.8,283.7 389.6,283.2 392.4,283.1 395.2,283.1 397.9,282.8 400.7,283.7 403.5,284.7 406.3,285.6 409.0,285.0 411.8,284.4 414.6,283.9 417.4,284.0 420.2,282.6 422.9,282.3 425.7,280.6 428.5,279.4 431.3,278.4 434.0,278.8 436.8,278.4 439.6,278.2 442.4,277.4 445.2,277.1 447.9,278.2 450.7,276.6"/>
<polyline class="g" points="388.9,318.3 391.7,318.3 394.4,319.0 397.2,319.9 400.0,320.3 402.8,320.2 405.5,320.0 408.3,321.2 411.1,321.2 413.9,321.2 416.7,322.5 419.4,323.5 422.2,323.6 425.0,323.4 427.8,323.0 430.5,324.0 433.3,324.0 436.1,325.0 438.9,324.6 441.7,325.0 444.4,325.6 447.2,326.0 450.0,326.5 452.8,327.1 455.5,326.7 458.3,326.6 461.1,327.3 463.9,329.4 466.7,329.7 469.4,329.6 472.2,329.9 475.0,330.7 477.8,332.3 480.5,332.4 483.3,333.5 486.1,334.2 488.9,334.6"/>
<polyline class="g" points="112.7,315.9 115.5,314.7 118.3,315.1 121.0,315.7 123.8,315.4 126.6,314.9 129.4,315.7 132.1,316.3 134.9,316.2 137.7,316.3 140.5,316.2 143.3,316.1 146.0,316.4 148.8,317.5 151.6,316.5 154.4,316.8 157.1,318.6 159.9,319.4 162.7,320.2 165.5,321.3 168.3,320.8 171.0,319.9 173.8,318.5 176.6,317.4 179.4,317.7 182.1,318.5 184.9,318.4 187.7,318.2 190.5,318.8 193.3,319.5 196.0,319.8 198.8,318.5 201.6,318.6 204.4,317.3 207.1,318.3 209.9,318.3 212.7,318.4"/>
<polyline class="g" points="219.8,307.6 222.6,307.8 225.4,308.3 228.1,308.6 230.9,307.5 233.7,307.2 236.5,306.8 239.2,305.7 242.0,305.6 244.8,305.1 247.6,305.5 250.4,305.4 253.1,304.3 255.9,303.9 258.7,303.2 261.5,302.3 264.2,301.6 267.0,301.9 269.8,301.0 272.6,299.3 275.4,298.4 278.1,298.6 280.9,299.5 283.7,297.7 286.5,296.6 289.2,295.6 292.0,293.8 294.8,293.5 297.6,292.8 300.4,292.2 303.1,292.8 305.9,291.3 308.7,290.6 311.5,289.9 314.2,288.0 317.0,286.4 319.8,286.4"/>
<polyline class="g" points="171.3,296.5 174.1,295.9 176.9,295.9 179.7,295.9 182.4,296.1 185.2,296.5 188.0,296.3 190.8,295.5 193.6,295.7 196.3,296.4 199.1,295.2 201.9,295.2 204.7,295.4 207.4,295.7 210.2,296.3 213.0,297.0 215.8,297.8 218.6,299.7 221.3,300.6 224.1,298.2 226.9,294.9 229.7,294.1 232.4,292.7 235.2,291.8 238.0,290.6 240.8,291.1 243.6,291.2 246.3,290.9 249.1,291.6 251.9,293.1 254.7,293.6 257.4,293.7 260.2,292.7 263.0,292.6 265.8,292.1 268.6,292.4 271.3,292.3"/>
<polyline class="g" points="362.1,312.0 364.9,310.4 367.7,310.3 370.5,310.3 373.2,310.3 376.0,309.3 378.8,310.8 381.6,309.5 384.3,308.9 387.1,310.2 389.9,310.2 392.7,309.4 395.5,308.9 398.2,309.5 401.0,309.1 403.8,310.2 406.6,311.1 409.3,311.9 412.1,312.7 414.9,311.8 417.7,310.0 420.5,308.0 423.2,307.5 426.0,306.6 428.8,307.6 431.6,306.7 434.3,307.7 437.1,307.3 439.9,307.1 442.7,305.5 445.5,305.6 448.2,306.6 451.0,305.4 453.8,306.3 456.6,306.6 459.3,306.9 462.1,305.7"/>
<polyline class="g" points="286.0,261.6 288.7,261.5 291.5,262.1 294.3,261.2 297.1,260.6 299.9,260.8 302.6,261.1 305.4,259.7 308.2,260.2 311.0,259.9 313.7,259.6 316.5,260.1 319.3,260.4 322.1,260.5 324.9,261.5 327.6,261.5 330.4,261.8 333.2,262.9 336.0,265.0 338.7,266.1 341.5,266.0 344.3,265.3 347.1,262.0 349.9,260.7 352.6,259.4 355.4,257.9 358.2,256.0 361.0,254.5 363.7,253.0 366.5,253.5 369.3,253.5 372.1,252.9 374.9,253.5 377.6,252.6 380.4,253.2 383.2,253.4 386.0,253.3"/>
<polyline class="g" points="165.4,320.0 168.2,319.7 171.0,320.1 173.8,320.1 176.5,319.6 179.3,319.5 182.1,319.7 184.9,319.3 187.7,320.5 190.4,321.1 193.2,321.7 196.0,320.5 198.8,320.5 201.5,321.2 204.3,321.3 207.1,320.3 209.9,321.1 212.7,323.2 215.4,324.4 218.2,324.9 221.0,324.8 223.8,326.2 226.5,326.5 229.3,325.6 232.1,324.5 234.9,324.5 237.7,323.9 240.4,323.1 243.2,322.4 246.0,322.5 248.8,322.6 251.5,322.6 254.3,326.0 257.1,324.7 259.9,323.5 262.7,323.3 265.4,324.2"/>
<polyline class="g" points="262.2,284.9 265.0,282.1 267.7,281.7 270.5,280.1 273.3,279.7 276.1,278.0 278.9,277.5 281.6,277.1 284.4,276.0 287.2,274.1 290.0,272.7 292.7,271.5 295.5,270.6 298.3,270.6 301.1,269.0 303.9,268.4 306.6,267.9 309.4,267.5 312.2,266.4 315.0,266.8 317.7,265.8 320.5,264.1 323.3,263.1 326.1,263.0 328.9,262.4 331.6,262.2 334.4,261.4 337.2,260.0 340.0,258.0 342.7,256.8 345.5,256.3 348.3,254.6 351.1,254.1 353.9,253.1 356.6,253.6 359.4,251.6 362.2,252.9"/>
<polyline class="g" points="72.3,298.1 75.1,297.8 77.9,297.6 80.7,296.9 83.5,296.9 86.2,297.2 89.0,296.1 91.8,296.6 94.6,296.3 97.3,296.5 100.1,296.3 102.9,296.3 105.7,296.2 108.5,296.4 111.2,295.6 114.0,295.4 116.8,294.7 119.6,295.1 122.3,296.2 125.1,296.1 127.9,296.6 130.7,295.6 133.5,295.1 136.2,295.2 139.0,294.6 141.8,294.2 144.6,294.5 147.3,294.2 150.1,294.2 152.9,293.3 155.7,292.2 158.5,292.4 161.2,291.2 164.0,291.8 166.8,291.0 169.6,290.9 172.3,291.1"/>
<polyline class="g" points="39.7,321.9 42.5,322.2 45.3,321.3 48.1,321.2 50.8,321.4 53.6,319.9 56.4,320.9 59.2,321.8 62.0,322.7 64.7,321.6 67.5,320.9 70.3,320.7 73.1,320.3 75.8,322.4 78.6,322.2 81.4,322.9 84.2,324.2 87.0,325.6 89.7,327.2 92.5,326.1 95.3,326.0 98.1,324.9 100.8,323.0 103.6,322.6 106.4,321.4 109.2,322.7 112.0,322.0 114.7,322.8 117.5,323.6 120.3,322.8 123.1,322.0 125.8,322.2 128.6,321.5 131.4,322.3 134.2,322.4 137.0,321.8 139.7,321.4"/>
<polyline class="g" points="305.5,315.5 308.2,315.3 311.0,316.2 313.8,316.1 316.6,315.8 319.3,315.7 322.1,315.6 324.9,315.3 327.7,314.6 330.5,313.1 333.2,314.5 336.0,313.1 338.8,311.5 341.6,311.2 344.3,313.0 347.1,314.0 349.9,313.9 352.7,315.1 355.5,316.3 358.2,315.9 361.0,316.2 363.8,316.0 366.6,315.5 369.3,312.9 372.1,310.2 374.9,308.8 377.7,309.2 380.5,309.4 383.2,309.6 386.0,309.8 388.8,309.5 391.6,308.5 394.3,309.0 397.1,309.4 399.9,309.7 402.7,310.3 405.5,309.1"/>
<polyline class="g" points="324.1,320.7 326.9,320.4 329.6,320.7 332.4,321.1 335.2,320.5 338.0,321.6 340.7,322.3 343.5,322.4 346.3,322.1 349.1,321.9 351.9,320.7 354.6,321.5 357.4,321.0 360.2,321.0 363.0,322.1 365.7,321.6 368.5,321.7 371.3,322.9 374.1,324.8 376.9,324.8 379.6,326.3 382.4,326.3 385.2,326.7 388.0,326.7 390.7,325.3 393.5,325.7 396.3,326.7 399.1,326.3 401.9,326.3 404.6,325.4 407.4,327.0 410.2,327.0 413.0,326.1 415.7,327.0 418.5,326.2 421.3,326.2 424.1,325.3"/>
<polyline class="g" points="422.9,287.7 425.7,286.0 428.4,286.7 431.2,284.3 434.0,284.0 436.8,283.4 439.6,283.3 442.3,282.6 445.1,282.2 447.9,281.8 450.7,282.1 453.4,281.1 456.2,280.6 459.0,281.9 461.8,282.6 464.6,282.4 467.3,281.5 470.1,280.6 472.9,280.5 475.7,279.7 478.4,280.7 481.2,279.9 484.0,277.7 486.8,277.6 489.6,277.4 492.3,276.6 495.1,275.8 497.9,275.1 500.7,275.2 503.4,275.1 506.2,272.8 509.0,272.5 511.8,271.6 514.6,272.1 517.3,270.9 520.1,269.8 522.9,268.0"/>
<polyline class="g" points="232.5,297.9 235.3,297.6 238.1,298.0 240.9,297.4 243.6,298.3 246.4,297.9 249.2,298.8 252.0,298.5 254.7,299.4 257.5,300.0 260.3,300.2 263.1,300.6 265.9,302.1 268.6,301.9 271.4,300.3 274.2,300.2 277.0,301.6 279.7,302.9 282.5,302.7 285.3,302.7 288.1,301.8 290.9,300.2 293.6,298.7 296.4,297.9 299.2,298.3 302.0,296.6 304.7,297.2 307.5,297.1 310.3,295.8 313.1,296.0 315.9,295.8 318.6,295.1 321.4,295.6 324.2,295.3 327.0,296.0 329.7,296.7 332.5,296.4"/>
<polyline class="g" points="142.8,302.1 145.6,303.3 148.4,301.3 151.2,299.9 154.0,300.1 156.7,299.1 159.5,297.9 162.3,298.0 165.1,298.0 167.8,298.3 170.6,299.5 173.4,298.5 176.2,298.0 179.0,296.9 181.7,297.1 184.5,298.0 187.3,298.6 190.1,296.7 192.8,297.2 195.6,297.2 198.4,296.9 201.2,296.1 204.0,295.8 206.7,295.9 209.5,296.1 212.3,296.2 215.1,295.1 217.8,294.8 220.6,294.0 223.4,294.5 226.2,294.3 229.0,293.0 231.7,293.7 234.5,294.6 237.3,292.8 240.1,293.9 242.8,293.7"/>
<polyline class="g" points="320.6,314.2 323.4,315.2 326.2,313.4 329.0,313.0 331.8,313.1 334.5,312.8 337.3,314.1 340.1,313.8 342.9,312.6 345.6,312.6 348.4,312.7 351.2,312.5 354.0,312.5 356.8,312.7 359.5,313.8 362.3,314.1 365.1,314.7 367.9,314.7 370.6,315.6 373.4,315.2 376.2,315.1 379.0,315.6 381.8,316.1 384.5,316.5 387.3,315.3 390.1,314.1 392.9,316.0 395.6,314.5 398.4,313.9 401.2,312.9 404.0,313.4 406.8,313.5 409.5,312.0 412.3,313.3 415.1,313.1 417.9,314.1 420.6,314.8"/>
<polyline class="g" points="389.0,305.2 391.7,305.8 394.5,305.2 397.3,306.3 400.1,305.0 402.8,304.6 405.6,305.1 408.4,304.6 411.2,304.3 414.0,303.9 416.7,304.7 419.5,302.7 422.3,303.8 425.1,304.5 427.8,304.2 430.6,304.4 433.4,303.5 436.2,304.3 439.0,306.3 441.7,305.0 444.5,305.6 447.3,305.0 450.1,304.4 452.8,303.8 455.6,303.5 458.4,302.5 461.2,301.7 464.0,303.2 466.7,303.2 469.5,303.6 472.3,303.7 475.1,303.8 477.8,302.6 480.6,302.0 483.4,302.7 486.2,303.5 489.0,302.5"/>
<polyline class="g" points="201.3,312.4 204.1,311.9 206.8,312.5 209.6,312.7 212.4,311.9 215.2,312.1 218.0,311.8 220.7,311.0 223.5,310.2 226.3,309.0 229.1,308.4 231.8,308.9 234.6,309.8 237.4,309.2 240.2,309.4 243.0,309.6 245.7,310.1 248.5,310.2 251.3,310.5 254.1,310.1 256.8,308.4 259.6,307.9 262.4,305.4 265.2,305.0 268.0,304.8 270.7,304.9 273.5,304.3 276.3,304.5 279.1,304.8 281.8,303.5 284.6,302.5 287.4,302.2 290.2,302.1 293.0,301.5 295.7,301.5 298.5,299.9 301.3,300.0"/>
<polyline class="g" points="190.9,305.9 193.7,305.2 196.5,305.0 199.3,304.6 202.1,304.6 204.8,304.3 207.6,304.2 210.4,304.6 213.2,304.1 215.9,303.8 218.7,302.4 221.5,300.1 224.3,300.2 227.1,301.3 229.8,302.0 232.6,302.7 235.4,302.9 238.2,304.0 240.9,302.9 243.7,301.5 246.5,300.4 249.3,298.9 252.1,299.0 254.8,297.4 257.6,297.0 260.4,296.4 263.2,294.8 265.9,294.0 268.7,292.8 271.5,291.4 274.3,291.1 277.1,290.0 279.8,290.7 282.6,289.3 285.4,288.3 288.2,287.8 290.9,286.8"/>
<polyline class="g" points="244.7,308.7 247.5,309.0 250.2,308.0 253.0,307.7 255.8,307.4 258.6,308.7 261.4,308.1 264.1,309.3 266.9,309.0 269.7,311.0 272.5,310.7 275.2,310.5 278.0,311.4 280.8,311.9 283.6,312.6 286.4,311.8 289.1,312.9 291.9,313.9 294.7,313.2 297.5,312.2 300.2,311.0 303.0,311.6 305.8,311.6 308.6,311.5 311.4,310.6 314.1,312.0 316.9,312.6 319.7,312.5 322.5,313.4 325.2,312.5 328.0,313.1 330.8,312.4 333.6,313.5 336.4,313.2 339.1,314.1 341.9,313.7 344.7,314.0"/>
<polyline class="g" points="143.1,300.6 145.9,300.4 148.7,300.0 151.5,299.5 154.3,298.8 157.0,298.6 159.8,298.7 162.6,297.4 165.4,297.6 168.1,296.6 170.9,296.7 173.7,298.2 176.5,296.9 179.3,296.6 182.0,296.1 184.8,296.7 187.6,296.1 190.4,294.8 193.1,293.9 195.9,294.3 198.7,294.3 201.5,294.5 204.3,293.4 207.0,293.3 209.8,291.9 212.6,292.5 215.4,291.9 218.1,290.9 220.9,290.7 223.7,291.5 226.5,290.3 229.3,288.9 232.0,288.0 234.8,287.0 237.6,287.0 240.4,287.2 243.1,286.8"/>
<polyline class="g" points="382.5,300.3 385.3,300.9 388.0,300.4 390.8,299.3 393.6,299.0 396.4,299.5 399.1,298.3 401.9,298.7 404.7,299.9 407.5,298.9 410.3,299.6 413.0,299.0 415.8,298.6 418.6,299.1 421.4,299.8 424.1,300.0 426.9,300.6 429.7,301.3 432.5,302.4 435.3,301.2 438.0,300.1 440.8,301.0 443.6,301.0 446.4,300.1 449.1,300.3 451.9,301.1 454.7,300.4 457.5,300.4 460.3,300.8 463.0,300.0 465.8,299.1 468.6,299.7 471.4,299.6 474.1,299.7 476.9,299.1 479.7,299.6 482.5,300.2"/>
<polyline class="g" points="141.9,300.5 144.7,300.9 147.4,301.7 150.2,300.1 153.0,300.2 155.8,301.0 158.6,300.1 161.3,299.7 164.1,300.2 166.9,300.0 169.7,299.2 172.4,298.3 175.2,298.0 178.0,298.0 180.8,298.2 183.6,298.7 186.3,298.0 189.1,298.4 191.9,298.6 194.7,298.2 197.4,298.4 200.2,297.9 203.0,297.7 205.8,296.7 208.6,295.8 211.3,295.2 214.1,296.3 216.9,296.2 219.7,295.9 222.4,294.9 225.2,294.7 228.0,293.6 230.8,293.6 233.6,293.4 236.3,292.7 239.1,292.9 241.9,291.7"/>
<polyline class="g" points="384.8,322.6 387.6,324.2 390.4,325.3 393.2,326.0 395.9,326.2 398.7,326.4 401.5,326.9 404.3,327.2 407.1,326.9 409.8,327.8 412.6,327.4 415.4,327.8 418.2,327.9 420.9,327.5 423.7,328.6 426.5,329.0 429.3,328.8 432.1,329.6 434.8,329.6 437.6,331.7 440.4,332.7 443.2,334.3 445.9,333.5 448.7,333.8 451.5,332.8 454.3,332.3 457.1,332.6 459.8,333.3 462.6,334.2 465.4,334.2 468.2,335.3 470.9,336.1 473.7,335.4 476.5,335.6 479.3,335.2 482.1,336.9 484.8,336.6"/>
<polyline class="g" points="366.1,295.6 368.9,295.9 371.6,296.0 374.4,295.0 377.2,295.3 380.0,294.5 382.8,294.4 385.5,294.1 388.3,294.3 391.1,295.8 393.9,294.6 396.6,293.1 399.4,292.1 402.2,292.2 405.0,292.5 407.8,293.3 410.5,293.3 413.3,293.3 416.1,294.0 418.9,294.9 421.6,294.3 424.4,293.3 427.2,291.8 430.0,291.0 432.8,289.3 435.5,289.2 438.3,288.8 441.1,288.4 443.9,287.1 446.6,286.1 449.4,285.0 452.2,285.4 455.0,283.7 457.8,282.9 460.5,282.6 463.3,281.2 466.1,280.9"/>
<polyline class="g" points="386.7,290.0 389.4,289.8 392.2,289.7 395.0,289.6 397.8,291.3 400.6,290.1 403.3,289.8 406.1,289.0 408.9,289.2 411.7,288.6 414.4,288.9 417.2,287.9 420.0,289.2 422.8,288.9 425.6,287.1 428.3,287.5 431.1,287.1 433.9,286.5 436.7,287.3 439.4,287.4 442.2,288.2 445.0,287.5 447.8,287.4 450.6,286.2 453.3,285.2 456.1,284.1 458.9,283.0 461.7,282.1 464.4,281.8 467.2,281.7 470.0,280.7 472.8,281.6 475.6,281.8 478.3,279.8 481.1,279.6 483.9,278.6 486.7,277.8"/>
<polyline class="g" points="411.1,320.3 413.8,319.7 416.6,320.8 419.4,321.8 422.2,320.6 425.0,321.1 427.7,320.8 430.5,321.1 433.3,321.9 436.1,321.7 438.8,321.7 441.6,320.5 444.4,320.9 447.2,322.3 450.0,322.0 452.7,322.6 455.5,323.3 458.3,325.3 461.1,324.7 463.8,325.4 466.6,324.9 469.4,324.5 472.2,324.0 475.0,322.5 477.7,323.1 480.5,322.7 483.3,323.1 486.1,323.9 488.8,323.8 491.6,322.8 494.4,322.5 497.2,323.4 500.0,324.6 502.7,325.9 505.5,324.9 508.3,325.1 511.1,325.2"/>
<polyline class="g" points="147.6,314.2 150.4,314.0 153.2,314.1 156.0,314.2 158.7,314.4 161.5,313.9 164.3,314.4 167.1,313.6 169.9,312.9 172.6,312.7 175.4,313.9 178.2,314.8 181.0,314.3 183.7,315.8 186.5,316.2 189.3,315.7 192.1,317.2 194.9,317.6 197.6,317.5 200.4,315.9 203.2,315.6 206.0,315.0 208.7,313.4 211.5,313.4 214.3,313.4 217.1,313.7 219.9,314.0 222.6,313.2 225.4,313.4 228.2,313.6 231.0,313.0 233.7,312.7 236.5,311.9 239.3,312.2 242.1,311.5 244.9,312.0 247.6,312.2"/>
<polyline class="g" points="349.9,312.6 352.7,311.9 355.5,311.9 358.3,311.5 361.0,310.7 363.8,310.6 366.6,310.4 369.4,311.3 372.1,312.3 374.9,312.5 377.7,312.1 380.5,311.7 383.3,310.7 386.0,311.0 388.8,313.0 391.6,314.8 394.4,315.8 397.1,316.0 399.9,315.6 402.7,314.9 405.5,313.4 408.3,312.5 411.0,311.0 413.8,310.5 416.6,310.0 419.4,310.6 422.1,309.5 424.9,310.4 427.7,310.0 430.5,309.5 433.3,309.4 436.0,309.3 438.8,309.0 441.6,309.2 444.4,308.6 447.1,307.4 449.9,308.1"/>
<polyline class="g" points="261.5,315.1 264.2,315.1 267.0,314.1 269.8,314.8 272.6,315.3 275.3,314.6 278.1,315.1 280.9,315.7 283.7,316.1 286.5,315.4 289.2,314.8 292.0,314.0 294.8,313.3 297.6,313.9 300.3,314.1 303.1,315.2 305.9,315.3 308.7,315.1 311.5,314.4 314.2,316.1 317.0,316.5 319.8,316.6 322.6,315.7 325.3,314.7 328.1,314.9 330.9,313.8 333.7,314.1 336.5,314.4 339.2,314.0 342.0,312.8 344.8,313.3 347.6,314.4 350.3,313.6 353.1,312.8 355.9,313.7 358.7,313.8 361.5,313.3"/>
<polyline class="g" points="84.1,292.1 86.9,292.4 89.7,293.1 92.5,292.7 95.3,292.7 98.0,291.5 100.8,290.0 103.6,289.3 106.4,287.7 109.1,287.4 111.9,286.1 114.7,285.5 117.5,284.0 120.3,283.2 123.0,283.2 125.8,282.2 128.6,281.1 131.4,281.0 134.1,281.4 136.9,281.0 139.7,279.7 142.5,277.9 145.3,275.9 148.0,275.5 150.8,273.9 153.6,272.9 156.4,272.4 159.1,271.3 161.9,270.4 164.7,268.8 167.5,266.6 170.3,266.2 173.0,265.1 175.8,264.4 178.6,262.5 181.4,261.5 184.1,261.9"/>
<polyline class="g" points="206.2,321.7 208.9,321.4 211.7,321.7 214.5,321.5 217.3,321.1 220.0,322.1 222.8,322.5 225.6,322.2 228.4,322.4 231.2,322.6 233.9,322.5 236.7,322.1 239.5,321.7 242.3,321.7 245.0,321.9 247.8,322.0 250.6,321.7 253.4,322.1 256.2,323.0 258.9,322.5 261.7,322.4 264.5,322.3 267.3,321.6 270.0,320.6 272.8,320.0 275.6,319.3 278.4,319.9 281.2,319.4 283.9,318.1 286.7,317.5 289.5,318.0 292.3,318.3 295.0,318.0 297.8,317.2 300.6,317.3 303.4,317.0 306.2,316.8"/>
<polyline class="g" points="127.4,314.2 130.2,314.3 133.0,315.0 135.8,315.4 138.5,314.0 141.3,314.1 144.1,313.6 146.9,314.3 149.6,314.7 152.4,314.3 155.2,315.7 158.0,315.1 160.8,316.6 163.5,315.9 166.3,315.4 169.1,316.6 171.9,316.1 174.6,316.2 177.4,318.2 180.2,319.1 183.0,319.9 185.8,318.8 188.5,319.2 191.3,318.2 194.1,316.8 196.9,316.1 199.6,314.9 202.4,314.1 205.2,312.9 208.0,313.3 210.8,314.2 213.5,314.6 216.3,314.9 219.1,315.0 221.9,314.0 224.6,313.0 227.4,313.5"/>
<polyline class="g" points="369.1,309.7 371.9,310.4 374.7,309.8 377.4,309.8 380.2,311.5 383.0,310.4 385.8,310.5 388.5,308.0 391.3,306.9 394.1,307.6 396.9,307.8 399.7,309.1 402.4,308.4 405.2,306.6 408.0,307.6 410.8,306.5 413.5,307.1 416.3,309.2 419.1,309.3 421.9,309.9 424.7,309.0 427.4,309.3 430.2,308.7 433.0,306.1 435.8,304.9 438.5,303.9 441.3,304.1 444.1,304.4 446.9,304.0 449.7,304.0 452.4,303.7 455.2,303.2 458.0,302.4 460.8,301.3 463.5,301.3 466.3,300.2 469.1,300.2"/>
<polyline class="g" points="159.3,309.4 162.1,308.9 164.9,308.6 167.7,308.8 170.5,308.7 173.2,308.4 176.0,307.8 178.8,306.6 181.6,306.1 184.3,306.2 187.1,305.8 189.9,307.7 192.7,305.8 195.5,307.3 198.2,307.2 201.0,306.6 203.8,306.5 206.6,306.1 209.3,305.6 212.1,304.1 214.9,303.9 217.7,303.0 220.5,303.3 223.2,302.9 226.0,302.4 228.8,302.4 231.6,302.1 234.3,302.4 237.1,302.0 239.9,301.1 242.7,301.3 245.5,300.3 248.2,299.1 251.0,298.5 253.8,299.2 256.6,298.5 259.3,298.0"/>
<polyline class="g" points="76.8,288.3 79.6,287.5 82.4,286.4 85.1,287.0 87.9,287.0 90.7,287.5 93.5,286.5 96.2,285.8 99.0,286.1 101.8,287.3 104.6,287.5 107.4,287.0 110.1,287.3 112.9,287.6 115.7,286.4 118.5,287.7 121.2,288.0 124.0,287.6 126.8,287.7 129.6,286.8 132.4,287.9 135.1,289.4 137.9,288.7 140.7,287.8 143.5,286.5 146.2,285.5 149.0,284.1 151.8,283.8 154.6,284.1 157.4,283.5 160.1,283.8 162.9,282.3 165.7,281.7 168.5,281.3 171.2,281.0 174.0,281.7 176.8,280.6"/>
<polyline class="g" points="139.1,309.1 141.9,309.1 144.6,309.5 147.4,308.3 150.2,309.6 153.0,309.0 155.8,308.0 158.5,307.6 161.3,308.5 164.1,308.5 166.9,308.4 169.6,309.5 172.4,310.2 175.2,310.6 178.0,310.4 180.8,311.6 183.5,311.6 186.3,311.8 189.1,311.1 191.9,309.1 194.6,308.3 197.4,307.8 200.2,306.6 203.0,306.1 205.8,307.8 208.5,307.8 211.3,309.3 214.1,309.4 216.9,308.8 219.6,308.2 222.4,309.3 225.2,308.4 228.0,308.8 230.8,308.3 233.5,307.7 236.3,307.5 239.1,307.3"/>
<polyline class="g" points="141.6,312.7 144.3,312.6 147.1,311.2 149.9,310.9 152.7,311.9 155.5,311.5 158.2,310.3 161.0,310.5 163.8,309.4 166.6,309.3 169.3,309.6 172.1,309.6 174.9,308.9 177.7,310.3 180.5,311.2 183.2,311.1 186.0,311.5 188.8,311.2 191.6,311.2 194.3,310.8 197.1,310.9 199.9,311.5 202.7,310.9 205.5,309.3 208.2,308.0 211.0,306.8 213.8,304.8 216.6,303.9 219.3,304.5 222.1,302.9 224.9,303.4 227.7,304.5 230.5,303.9 233.2,304.3 236.0,304.2 238.8,303.5 241.6,302.2"/>
<polyline class="g" points="331.9,323.4 334.6,324.0 337.4,324.1 340.2,323.8 343.0,323.5 345.8,323.8 348.5,324.0 351.3,324.2 354.1,323.6 356.9,322.6 359.6,323.5 362.4,324.2 365.2,323.4 368.0,323.1 370.8,323.5 373.5,322.1 376.3,322.5 379.1,324.1 381.9,323.8 384.6,323.0 387.4,324.3 390.2,323.7 393.0,323.4 395.8,322.6 398.5,322.4 401.3,320.9 404.1,320.1 406.9,319.4 409.6,320.4 412.4,320.5 415.2,321.4 418.0,319.9 420.8,319.7 423.5,320.9 426.3,320.3 429.1,319.1 431.9,318.9"/>
<polyline class="g" points="201.1,300.9 203.8,301.5 206.6,301.1 209.4,300.2 212.2,300.6 215.0,300.7 217.7,300.6 220.5,299.6 223.3,299.8 226.1,299.3 228.8,299.9 231.6,300.2 234.4,300.3 237.2,299.8 240.0,300.8 242.7,301.0 245.5,301.7 248.3,302.1 251.1,302.4 253.8,302.5 256.6,301.3 259.4,299.7 262.2,298.8 265.0,299.0 267.7,299.4 270.5,299.2 273.3,299.0 276.1,300.0 278.8,299.3 281.6,297.8 284.4,296.8 287.2,296.9 290.0,297.6 292.7,298.2 295.5,297.9 298.3,298.4 301.1,298.1"/>
<polyline class="g" points="127.6,316.2 130.4,316.7 133.2,317.1 136.0,316.6 138.8,316.7 141.5,317.0 144.3,315.8 147.1,316.0 149.9,316.6 152.6,317.2 155.4,317.8 158.2,317.4 161.0,316.2 163.8,317.1 166.5,317.4 169.3,316.7 172.1,317.2 174.9,317.6 177.6,317.2 180.4,315.4 183.2,315.3 186.0,315.0 188.8,314.6 191.5,314.7 194.3,314.0 197.1,314.5 199.9,315.9 202.6,314.8 205.4,315.4 208.2,314.8 211.0,315.1 213.8,314.8 216.5,315.5 219.3,314.6 222.1,314.9 224.9,314.1 227.6,314.1"/>
<polyline class="g" points="411.9,308.5 414.7,308.9 417.5,309.2 420.3,308.0 423.1,309.8 425.8,310.5 428.6,310.1 431.4,310.4 434.2,309.1 436.9,309.3 439.7,310.3 442.5,308.7 445.3,308.1 448.1,307.6 450.8,308.0 453.6,308.4 456.4,307.9 459.2,308.4 461.9,307.1 464.7,308.3 467.5,307.6 470.3,307.7 473.1,306.8 475.8,306.8 478.6,307.4 481.4,306.7 484.2,305.8 486.9,305.6 489.7,305.6 492.5,306.2 495.3,305.2 498.1,305.3 500.8,306.1 503.6,305.7 506.4,305.5 509.2,305.5 511.9,305.5"/>
<polyline class="g" points="298.8,301.4 301.5,301.5 304.3,300.8 307.1,299.9 309.9,300.9 312.7,299.8 315.4,299.5 318.2,299.5 321.0,298.3 323.8,297.9 326.5,297.9 329.3,298.1 332.1,297.9 334.9,298.0 337.7,298.1 340.4,297.3 343.2,297.4 346.0,298.1 348.8,297.6 351.5,297.3 354.3,297.1 357.1,297.4 359.9,295.5 362.7,295.3 365.4,294.1 368.2,294.9 371.0,293.5 373.8,292.6 376.5,291.8 379.3,292.3 382.1,292.7 384.9,294.0 387.7,292.7 390.4,291.3 393.2,290.7 396.0,290.1 398.8,289.6"/>
<polyline class="g" points="331.3,297.5 334.1,298.5 336.8,297.8 339.6,298.7 342.4,297.5 345.2,298.2 348.0,296.6 350.7,295.9 353.5,296.6 356.3,296.3 359.1,296.2 361.8,296.0 364.6,296.0 367.4,296.0 370.2,295.7 373.0,296.4 375.7,297.6 378.5,297.7 381.3,298.3 384.1,298.8 386.8,296.1 389.6,294.4 392.4,293.2 395.2,292.6 398.0,292.2 400.7,291.4 403.5,291.3 406.3,291.1 409.1,290.8 411.8,291.6 414.6,291.1 417.4,289.6 420.2,288.3 423.0,288.7 425.7,288.3 428.5,287.7 431.3,286.6"/>
<polyline class="g" points="103.8,305.0 106.5,305.9 109.3,306.3 112.1,306.6 114.9,306.1 117.7,305.8 120.4,305.3 123.2,305.7 126.0,304.9 128.8,306.0 131.5,305.8 134.3,304.8 137.1,304.3 139.9,302.8 142.7,302.3 145.4,302.3 148.2,304.3 151.0,303.7 153.8,304.5 156.5,304.4 159.3,303.7 162.1,303.5 164.9,301.3 167.7,301.5 170.4,302.3 173.2,301.8 176.0,301.2 178.8,300.8 181.5,300.8 184.3,299.9 187.1,299.7 189.9,299.6 192.7,299.0 195.4,298.9 198.2,298.7 201.0,298.8 203.8,297.6"/>
<polyline class="g" points="196.3,313.8 199.1,314.0 201.9,315.0 204.6,315.9 207.4,315.2 210.2,314.7 213.0,315.8 215.8,314.6 218.5,315.4 221.3,315.1 224.1,314.8 226.9,315.2 229.6,315.1 232.4,314.1 235.2,313.1 238.0,313.8 240.8,315.3 243.5,317.7 246.3,317.1 249.1,319.0 251.9,318.9 254.6,318.3 257.4,316.6 260.2,314.7 263.0,313.5 265.8,312.8 268.5,311.7 271.3,311.2 274.1,311.0 276.9,310.4 279.6,309.2 282.4,308.3 285.2,308.8 288.0,309.2 290.8,309.1 293.5,308.2 296.3,308.8"/>
<polyline class="g" points="318.0,300.4 320.8,301.0 323.6,300.8 326.4,299.2 329.1,299.0 331.9,298.8 334.7,299.2 337.5,299.1 340.2,299.4 343.0,298.2 345.8,298.0 348.6,299.2 351.4,298.2 354.1,299.0 356.9,300.5 359.7,300.6 362.5,299.3 365.2,300.2 368.0,298.9 370.8,299.6 373.6,299.7 376.4,300.8 379.1,301.3 381.9,300.8 384.7,301.4 387.5,301.2 390.2,300.0 393.0,298.9 395.8,300.4 398.6,299.6 401.4,299.5 404.1,299.1 406.9,298.6 409.7,297.4 412.5,297.5 415.2,297.5 418.0,298.3"/>
<polyline class="g" points="277.7,309.4 280.5,308.6 283.3,308.1 286.1,308.0 288.9,308.3 291.6,307.0 294.4,306.2 297.2,305.8 300.0,304.1 302.7,305.1 305.5,305.6 308.3,305.3 311.1,307.3 313.9,307.4 316.6,308.1 319.4,308.4 322.2,308.1 325.0,306.2 327.7,306.4 330.5,305.6 333.3,303.8 336.1,303.1 338.9,303.1 341.6,303.3 344.4,302.8 347.2,301.9 350.0,302.1 352.7,301.1 355.5,300.8 358.3,301.1 361.1,299.7 363.9,299.9 366.6,298.4 369.4,297.9 372.2,297.3 375.0,297.5 377.7,298.2"/>
<polyline class="g" points="21.5,308.5 24.3,309.0 27.1,308.8 29.8,308.0 32.6,308.5 35.4,308.2 38.2,308.5 40.9,308.3 43.7,307.8 46.5,307.9 49.3,308.4 52.1,308.3 54.8,307.9 57.6,309.4 60.4,310.1 63.2,308.2 65.9,309.0 68.7,309.8 71.5,311.2 74.3,312.4 77.1,312.6 79.8,311.7 82.6,311.7 85.4,310.4 88.2,308.5 90.9,307.8 93.7,307.4 96.5,306.9 99.3,306.8 102.1,306.9 104.8,307.6 107.6,307.1 110.4,308.1 113.2,308.9 115.9,308.3 118.7,308.9 121.5,308.3"/>
<polyline class="g" points="168.4,299.4 171.1,299.9 173.9,299.6 176.7,300.1 179.5,301.5 182.3,301.3 185.0,301.5 187.8,300.9 190.6,300.1 193.4,300.1 196.1,301.4 198.9,301.5 201.7,301.4 204.5,300.5 207.3,300.3 210.0,301.2 212.8,301.1 215.6,300.1 218.4,299.6 221.1,299.9 223.9,300.1 226.7,298.5 229.5,298.8 232.3,298.5 235.0,296.9 237.8,296.2 240.6,296.6 243.4,296.4 246.1,297.0 248.9,297.6 251.7,297.7 254.5,297.6 257.3,298.1 260.0,297.1 262.8,295.8 265.6,296.6 268.4,297.7"/>
<polyline class="g" points="214.0,310.6 216.8,311.7 219.5,311.4 222.3,312.3 225.1,312.5 227.9,312.1 230.6,312.1 233.4,311.7 236.2,313.7 239.0,313.0 241.8,312.6 244.5,313.7 247.3,314.4 250.1,315.0 252.9,314.5 255.6,314.5 258.4,315.4 261.2,316.2 264.0,317.0 266.8,317.2 269.5,316.8 272.3,316.7 275.1,315.0 277.9,313.9 280.6,313.8 283.4,314.2 286.2,314.1 289.0,314.3 291.8,314.8 294.5,314.8 297.3,315.2 300.1,316.3 302.9,316.8 305.6,316.6 308.4,316.8 311.2,317.3 314.0,317.4"/>
<polyline class="g" points="262.2,315.7 265.0,315.4 267.8,316.1 270.6,315.7 273.3,315.3 276.1,314.5 278.9,314.5 281.7,314.9 284.4,315.3 287.2,314.6 290.0,314.2 292.8,313.4 295.6,313.1 298.3,313.3 301.1,314.0 303.9,315.1 306.7,315.3 309.4,315.3 312.2,317.1 315.0,316.8 317.8,315.6 320.6,314.6 323.3,313.4 326.1,313.0 328.9,312.7 331.7,311.4 334.4,310.9 337.2,311.1 340.0,310.7 342.8,310.9 345.6,309.8 348.3,310.6 351.1,310.4 353.9,308.8 356.7,309.4 359.4,308.2 362.2,308.2"/>
<polyline class="g" points="120.8,315.6 123.6,314.9 126.3,316.9 129.1,317.0 131.9,316.4 134.7,317.4 137.4,317.5 140.2,317.5 143.0,315.9 145.8,316.7 148.6,316.1 151.3,315.9 154.1,315.9 156.9,316.7 159.7,317.1 162.4,316.2 165.2,315.5 168.0,314.7 170.8,314.8 173.6,315.4 176.3,315.9 179.1,316.0 181.9,315.3 184.7,314.5 187.4,314.4 190.2,314.5 193.0,314.5 195.8,313.7 198.6,314.0 201.3,314.5 204.1,313.5 206.9,312.6 209.7,313.2 212.4,314.2 215.2,314.1 218.0,313.9 220.8,313.4"/>
<polyline class="g" points="204.1,273.1 206.9,273.4 209.7,272.3 212.5,271.7 215.2,272.3 218.0,272.7 220.8,273.2 223.6,272.0 226.3,272.7 229.1,273.0 231.9,272.7 234.7,271.5 237.5,271.8 240.2,272.3 243.0,271.5 245.8,271.4 248.6,271.2 251.3,271.2 254.1,271.0 256.9,270.6 259.7,269.0 262.5,268.2 265.2,266.7 268.0,267.3 270.8,267.4 273.6,267.1 276.3,267.8 279.1,266.3 281.9,266.7 284.7,265.2 287.5,263.4 290.2,262.8 293.0,262.2 295.8,261.7 298.6,261.4 301.3,261.3 304.1,261.2"/>
<polyline class="g" points="199.8,303.9 202.6,304.6 205.3,304.0 208.1,303.1 210.9,302.8 213.7,303.2 216.4,303.5 219.2,302.6 222.0,302.9 224.8,302.2 227.6,302.0 230.3,302.9 233.1,302.9 235.9,301.8 238.7,302.2 241.4,304.6 244.2,305.1 247.0,307.4 249.8,307.9 252.6,306.3 255.3,304.7 258.1,303.8 260.9,303.6 263.7,301.7 266.4,301.3 269.2,301.4 272.0,301.9 274.8,303.3 277.6,303.8 280.3,303.3 283.1,301.7 285.9,301.1 288.7,300.2 291.4,299.9 294.2,299.6 297.0,299.5 299.8,299.7"/>
<polyline class="g" points="237.6,307.0 240.4,307.9 243.2,307.8 246.0,308.0 248.8,307.4 251.5,306.4 254.3,304.6 257.1,304.4 259.9,304.4 262.6,303.8 265.4,303.5 268.2,304.1 271.0,306.2 273.8,307.1 276.5,308.6 279.3,309.8 282.1,310.7 284.9,309.6 287.6,308.4 290.4,305.8 293.2,305.1 296.0,303.1 298.8,301.7 301.5,302.0 304.3,302.3 307.1,301.4 309.9,301.6 312.6,301.6 315.4,302.4 318.2,301.5 321.0,300.1 323.8,300.4 326.5,300.9 329.3,301.4 332.1,300.9 334.9,299.5 337.6,298.2"/>
<polyline class="g" points="60.8,307.9 63.6,307.6 66.3,307.0 69.1,305.1 71.9,303.7 74.7,303.3 77.4,302.0 80.2,301.0 83.0,302.2 85.8,300.9 88.6,299.8 91.3,297.7 94.1,297.6 96.9,297.2 99.7,296.4 102.4,296.2 105.2,294.0 108.0,294.9 110.8,295.4 113.6,293.0 116.3,292.4 119.1,291.9 121.9,291.4 124.7,290.4 127.4,290.1 130.2,289.3 133.0,287.9 135.8,288.0 138.6,285.9 141.3,284.8 144.1,283.7 146.9,284.1 149.7,282.7 152.4,280.9 155.2,279.5 158.0,279.3 160.8,278.7"/>
<polyline class="g" points="221.8,294.4 224.6,294.9 227.3,294.5 230.1,292.4 232.9,292.9 235.7,293.3 238.4,293.1 241.2,293.9 244.0,293.6 246.8,293.6 249.6,294.0 252.3,293.5 255.1,294.2 257.9,294.0 260.7,294.2 263.4,295.3 266.2,297.2 269.0,298.0 271.8,298.9 274.6,298.9 277.3,297.1 280.1,295.9 282.9,296.6 285.7,295.3 288.4,295.1 291.2,295.0 294.0,295.5 296.8,295.0 299.6,295.2 302.3,294.7 305.1,296.1 307.9,295.7 310.7,295.1 313.4,295.6 316.2,294.5 319.0,295.0 321.8,296.1"/>
<polyline class="g" points="355.7,322.3 358.5,323.1 361.2,323.2 364.0,324.3 366.8,323.8 369.6,323.4 372.3,323.7 375.1,323.5 377.9,323.4 380.7,322.9 383.5,323.3 386.2,323.8 389.0,325.2 391.8,325.1 394.6,323.8 397.3,324.6 400.1,326.4 402.9,326.0 405.7,325.5 408.5,325.5 411.2,323.6 414.0,324.0 416.8,324.5 419.6,324.0 422.3,325.2 425.1,325.1 427.9,324.5 430.7,324.9 433.5,326.2 436.2,328.1 439.0,329.1 441.8,329.3 444.6,329.0 447.3,329.1 450.1,330.0 452.9,329.8 455.7,330.4"/>
<polyline class="g" points="169.0,308.0 171.8,306.2 174.5,305.9 177.3,305.6 180.1,305.2 182.9,303.8 185.7,303.5 188.4,303.3 191.2,302.5 194.0,302.4 196.8,300.3 199.5,299.3 202.3,299.5 205.1,299.7 207.9,299.4 210.7,298.9 213.4,298.9 216.2,299.6 219.0,300.1 221.8,299.8 224.5,299.1 227.3,299.3 230.1,298.7 232.9,298.1 235.7,296.6 238.4,295.0 241.2,294.4 244.0,293.4 246.8,293.7 249.5,293.6 252.3,291.3 255.1,291.4 257.9,291.8 260.7,291.8 263.4,290.6 266.2,289.3 269.0,289.5"/>
<polyline class="g" points="181.3,310.9 184.1,310.7 186.8,311.8 189.6,311.7 192.4,311.4 195.2,311.8 197.9,310.8 200.7,310.0 203.5,310.3 206.3,311.4 209.1,311.9 211.8,311.6 214.6,312.0 217.4,311.3 220.2,310.4 222.9,309.5 225.7,310.5 228.5,311.8 231.3,312.4 234.1,312.2 236.8,311.5 239.6,311.6 242.4,310.6 245.2,309.0 247.9,309.7 250.7,308.9 253.5,309.1 256.3,308.9 259.1,309.4 261.8,309.3 264.6,309.8 267.4,309.4 270.2,308.7 272.9,308.0 275.7,308.3 278.5,307.5 281.3,308.0"/>
<polyline class="g" points="200.8,299.6 203.6,299.6 206.4,299.3 209.1,300.2 211.9,300.1 214.7,299.6 217.5,299.6 220.3,298.8 223.0,298.2 225.8,298.3 228.6,296.5 231.4,297.9 234.1,299.5 236.9,298.5 239.7,298.4 242.5,297.4 245.3,297.8 248.0,298.1 250.8,298.7 253.6,297.7 256.4,297.4 259.1,297.2 261.9,297.2 264.7,299.0 267.5,298.6 270.3,298.3 273.0,297.8 275.8,298.3 278.6,299.9 281.4,300.1 284.1,300.5 286.9,298.9 289.7,299.2 292.5,298.7 295.3,299.2 298.0,299.4 300.8,299.2"/>
<polyline class="g" points="335.4,305.2 338.2,303.8 341.0,303.9 343.8,302.7 346.6,301.5 349.3,301.8 352.1,299.8 354.9,297.0 357.7,296.2 360.4,295.0 363.2,292.6 366.0,292.6 368.8,291.0 371.6,291.3 374.3,289.0 377.1,289.1 379.9,288.9 382.7,288.3 385.4,288.2 388.2,285.8 391.0,286.1 393.8,284.4 396.6,282.1 399.3,281.4 402.1,280.8 404.9,277.4 407.7,275.8 410.4,273.1 413.2,271.9 416.0,270.4 418.8,270.1 421.6,268.9 424.3,266.7 427.1,266.4 429.9,265.0 432.7,264.7 435.4,262.7"/>
<polyline class="g" points="267.7,275.8 270.5,275.3 273.3,274.4 276.0,272.7 278.8,272.5 281.6,272.9 284.4,272.5 287.1,270.6 289.9,270.1 292.7,270.2 295.5,268.9 298.3,268.5 301.0,268.5 303.8,268.7 306.6,266.5 309.4,264.7 312.1,264.6 314.9,264.5 317.7,263.4 320.5,262.5 323.3,261.3 326.0,261.3 328.8,258.8 331.6,258.5 334.4,257.0 337.1,256.1 339.9,254.7 342.7,253.8 345.5,253.6 348.3,253.3 351.0,254.1 353.8,253.1 356.6,252.5 359.4,251.9 362.1,251.2 364.9,251.3 367.7,250.2"/>
<polyline class="g" points="243.2,295.7 246.0,295.4 248.7,295.5 251.5,294.2 254.3,294.0 257.1,293.3 259.9,292.7 262.6,292.6 265.4,290.8 268.2,290.2 271.0,289.6 273.7,289.1 276.5,289.9 279.3,288.4 282.1,287.6 284.9,287.4 287.6,285.1 290.4,285.0 293.2,284.8 296.0,283.5 298.7,282.5 301.5,281.3 304.3,281.5 307.1,280.1 309.9,278.4 312.6,277.3 315.4,276.3 318.2,275.9 321.0,275.4 323.7,275.4 326.5,273.3 329.3,273.0 332.1,272.1 334.9,271.4 337.6,270.2 340.4,269.3 343.2,269.0"/>
<polyline class="g" points="356.6,255.0 359.4,254.0 362.1,253.3 364.9,253.0 367.7,252.5 370.5,251.4 373.3,251.2 376.0,251.0 378.8,249.5 381.6,248.1 384.4,246.3 387.1,245.9 389.9,245.6 392.7,244.8 395.5,244.3 398.3,244.4 401.0,245.0 403.8,246.3 406.6,247.5 409.4,247.8 412.1,247.4 414.9,244.6 417.7,242.8 420.5,240.9 423.3,238.4 426.0,236.7 428.8,236.3 431.6,235.5 434.4,233.9 437.1,232.9 439.9,233.5 442.7,233.2 445.5,232.3 448.3,232.3 451.0,230.5 453.8,229.5 456.6,229.4"/>
<polyline class="g" points="221.2,260.4 224.0,259.4 226.7,258.4 229.5,260.1 232.3,260.0 235.1,260.2 237.9,261.0 240.6,260.1 243.4,260.1 246.2,259.8 249.0,259.0 251.7,258.5 254.5,257.5 257.3,256.4 260.1,256.9 262.9,256.3 265.6,254.1 268.4,255.7 271.2,255.5 274.0,255.1 276.7,255.8 279.5,253.3 282.3,253.0 285.1,251.8 287.9,251.5 290.6,251.7 293.4,251.1 296.2,249.7 299.0,248.9 301.7,248.8 304.5,248.4 307.3,247.8 310.1,246.9 312.9,245.3 315.6,244.6 318.4,242.8 321.2,242.0"/>
<polyline class="g" points="210.4,307.9 213.2,308.1 216.0,305.7 218.8,304.8 221.5,304.2 224.3,303.0 227.1,302.0 229.9,301.4 232.7,299.5 235.4,298.7 238.2,298.1 241.0,296.4 243.8,293.5 246.5,291.9 249.3,290.8 252.1,290.0 254.9,290.4 257.7,289.7 260.4,290.8 263.2,289.5 266.0,286.4 268.8,284.1 271.5,283.2 274.3,281.7 277.1,279.2 279.9,278.5 282.7,276.6 285.4,276.7 288.2,274.6 291.0,273.4 293.8,272.2 296.5,270.2 299.3,268.6 302.1,268.0 304.9,266.7 307.7,265.0 310.4,263.7"/>
<polyline class="g" points="113.3,261.7 116.1,260.9 118.9,262.1 121.6,260.4 124.4,260.8 127.2,260.3 130.0,260.4 132.7,260.8 135.5,261.3 138.3,261.2 141.1,260.9 143.9,261.0 146.6,259.8 149.4,259.6 152.2,258.9 155.0,257.8 157.7,257.7 160.5,257.9 163.3,258.0 166.1,258.6 168.9,257.4 171.6,256.0 174.4,255.6 177.2,256.3 180.0,254.3 182.7,253.7 185.5,253.3 188.3,253.2 191.1,252.5 193.9,252.1 196.6,252.1 199.4,250.6 202.2,250.2 205.0,249.1 207.7,249.1 210.5,249.5 213.3,249.7"/>
<polyline class="g" points="256.6,262.3 259.4,262.9 262.2,262.8 265.0,263.9 267.7,263.9 270.5,263.3 273.3,261.2 276.1,261.3 278.8,262.1 281.6,261.5 284.4,262.1 287.2,262.5 290.0,261.2 292.7,261.6 295.5,262.5 298.3,263.6 301.1,264.0 303.8,263.7 306.6,262.7 309.4,261.5 312.2,260.6 315.0,259.1 317.7,259.2 320.5,258.6 323.3,258.7 326.1,258.0 328.8,258.0 331.6,257.7 334.4,258.0 337.2,257.7 340.0,257.8 342.7,257.0 345.5,256.3 348.3,255.6 351.1,254.2 353.8,253.9 356.6,254.4"/>
<polyline class="g" points="228.3,266.5 231.1,266.3 233.8,267.2 236.6,268.6 239.4,267.4 242.2,267.0 244.9,266.2 247.7,266.1 250.5,264.4 253.3,262.0 256.1,262.8 258.8,262.7 261.6,262.6 264.4,262.9 267.2,263.4 269.9,262.7 272.7,262.2 275.5,262.2 278.3,261.8 281.1,263.2 283.8,262.3 286.6,261.3 289.4,261.2 292.2,260.6 294.9,259.7 297.7,259.5 300.5,257.4 303.3,256.2 306.1,255.7 308.8,256.6 311.6,256.2 314.4,254.8 317.2,253.7 319.9,253.2 322.7,253.1 325.5,253.0 328.3,253.6"/>
<polyline class="g" points="114.6,292.8 117.4,292.2 120.2,290.5 123.0,289.8 125.8,289.1 128.5,289.4 131.3,287.1 134.1,286.1 136.9,285.7 139.6,285.3 142.4,284.5 145.2,284.0 148.0,282.6 150.8,282.6 153.5,283.1 156.3,282.5 159.1,281.6 161.9,282.2 164.6,282.3 167.4,281.6 170.2,281.5 173.0,281.0 175.8,280.2 178.5,279.6 181.3,277.0 184.1,275.1 186.9,273.7 189.6,271.7 192.4,270.5 195.2,270.3 198.0,270.2 200.8,267.9 203.5,267.7 206.3,266.6 209.1,266.7 211.9,266.0 214.6,266.2"/>
<polyline class="g" points="300.5,282.3 303.3,281.6 306.1,280.5 308.8,280.8 311.6,280.8 314.4,280.3 317.2,279.9 320.0,278.8 322.7,277.6 325.5,278.1 328.3,277.0 331.1,277.1 333.8,276.0 336.6,274.7 339.4,274.1 342.2,271.9 345.0,272.1 347.7,271.9 350.5,271.7 353.3,271.1 356.1,271.1 358.8,269.6 361.6,268.0 364.4,265.3 367.2,264.7 370.0,263.9 372.7,262.7 375.5,263.0 378.3,262.1 381.1,260.1 383.8,258.5 386.6,257.5 389.4,256.6 392.2,254.4 395.0,254.1 397.7,253.0 400.5,251.9"/>
<polyline class="g" points="128.6,259.3 131.4,258.4 134.1,259.3 136.9,259.6 139.7,259.5 142.5,258.4 145.2,259.0 148.0,259.4 150.8,258.5 153.6,257.5 156.4,257.5 159.1,256.8 161.9,256.6 164.7,255.1 167.5,254.2 170.2,252.9 173.0,251.8 175.8,251.2 178.6,251.1 181.4,251.6 184.1,251.3 186.9,250.6 189.7,248.3 192.5,245.3 195.2,244.1 198.0,241.2 200.8,240.8 203.6,239.6 206.4,236.2 209.1,234.5 211.9,232.9 214.7,231.7 217.5,230.2 220.2,228.3 223.0,227.8 225.8,226.0 228.6,225.0"/>
<polyline class="g" points="191.2,264.4 194.0,264.0 196.8,263.9 199.5,262.1 202.3,261.8 205.1,261.8 207.9,261.4 210.6,261.2 213.4,260.2 216.2,259.5 219.0,258.1 221.8,258.1 224.5,257.7 227.3,257.6 230.1,255.6 232.9,255.9 235.6,255.2 238.4,253.7 241.2,252.4 244.0,251.4 246.8,250.0 249.5,249.9 252.3,250.1 255.1,249.3 257.9,248.6 260.6,247.9 263.4,245.9 266.2,243.8 269.0,243.1 271.8,241.7 274.5,241.1 277.3,240.3 280.1,239.5 282.9,238.6 285.6,238.0 288.4,238.6 291.2,237.3"/>
<polyline class="g" points="292.7,275.2 295.5,274.6 298.2,275.0 301.0,274.1 303.8,274.2 306.6,272.7 309.3,272.9 312.1,273.7 314.9,273.3 317.7,273.3 320.5,273.8 323.2,272.6 326.0,271.5 328.8,271.5 331.6,271.8 334.3,271.9 337.1,272.0 339.9,274.2 342.7,274.5 345.5,275.2 348.2,274.9 351.0,274.0 353.8,271.7 356.6,269.2 359.3,269.4 362.1,267.6 364.9,267.4 367.7,266.6 370.5,265.7 373.2,265.2 376.0,264.5 378.8,264.3 381.6,262.0 384.3,261.9 387.1,261.7 389.9,260.8 392.7,260.3"/>
<polyline class="g" points="163.2,348.5 165.9,348.6 168.7,350.1 171.5,349.4 174.3,350.3 177.1,351.8 179.8,352.1 182.6,354.2 185.4,354.7 188.2,354.5 190.9,354.3 193.7,355.4 196.5,356.3 199.3,357.6 202.1,358.2 204.8,357.8 207.6,360.3 210.4,362.6 213.2,364.9 215.9,365.9 218.7,365.5 221.5,364.5 224.3,363.2 227.1,363.0 229.8,361.3 232.6,362.6 235.4,362.1 238.2,364.0 240.9,364.2 243.7,363.5 246.5,364.0 249.3,365.2 252.1,365.0 254.8,365.7 257.6,366.1 260.4,366.6 263.2,367.9"/>
<polyline class="g" points="364.7,348.8 367.5,351.4 370.3,352.2 373.0,354.1 375.8,355.9 378.6,356.3 381.4,357.1 384.2,358.0 386.9,357.9 389.7,360.3 392.5,361.8 395.3,364.2 398.0,365.2 400.8,366.6 403.6,368.4 406.4,370.3 409.2,371.6 411.9,371.9 414.7,374.7 417.5,376.1 420.3,377.8 423.0,379.6 425.8,381.1 428.6,381.8 431.4,382.6 434.2,383.7 436.9,383.3 439.7,384.9 442.5,385.1 445.3,386.6 448.0,387.0 450.8,388.7 453.6,389.5 456.4,392.4 459.2,393.3 461.9,394.4 464.7,394.6"/>
<polyline class="g" points="330.3,334.1 333.1,333.9 335.9,335.0 338.7,334.9 341.5,336.1 344.2,335.1 347.0,336.0 349.8,335.9 352.6,336.8 355.3,335.8 358.1,335.7 360.9,335.7 363.7,335.6 366.5,336.6 369.2,337.4 372.0,338.4 374.8,339.7 377.6,341.0 380.3,342.5 383.1,341.5 385.9,342.6 388.7,341.9 391.5,341.7 394.2,341.4 397.0,341.4 399.8,340.9 402.6,340.2 405.3,340.5 408.1,342.2 410.9,341.9 413.7,341.4 416.5,341.0 419.2,340.9 422.0,341.2 424.8,342.0 427.6,341.4 430.3,343.4"/>
<polyline class="g" points="243.4,329.8 246.1,330.5 248.9,331.4 251.7,332.6 254.5,333.1 257.3,333.3 260.0,336.2 262.8,336.4 265.6,338.5 268.4,337.9 271.1,339.1 273.9,340.0 276.7,342.6 279.5,345.1 282.3,347.0 285.0,348.1 287.8,350.2 290.6,352.4 293.4,354.1 296.1,355.2 298.9,354.5 301.7,353.8 304.5,354.7 307.3,355.7 310.0,354.8 312.8,355.2 315.6,356.4 318.4,358.7 321.1,359.6 323.9,362.2 326.7,363.3 329.5,365.3 332.3,365.5 335.0,366.3 337.8,368.2 340.6,369.6 343.4,369.3"/>
<polyline class="g" points="200.8,328.7 203.6,329.5 206.3,329.7 209.1,329.0 211.9,329.0 214.7,327.3 217.5,328.1 220.2,327.8 223.0,328.9 225.8,328.5 228.6,329.4 231.3,331.3 234.1,331.8 236.9,331.3 239.7,331.4 242.5,331.9 245.2,332.9 248.0,334.4 250.8,333.8 253.6,333.3 256.3,334.4 259.1,334.2 261.9,334.6 264.7,336.2 267.5,336.8 270.2,337.5 273.0,338.6 275.8,338.9 278.6,339.1 281.3,340.0 284.1,341.2 286.9,339.7 289.7,339.0 292.5,339.6 295.2,339.9 298.0,342.8 300.8,343.6"/>
<polyline class="g" points="272.2,333.1 275.0,334.7 277.8,336.1 280.5,338.3 283.3,339.8 286.1,341.7 288.9,341.8 291.6,342.3 294.4,344.3 297.2,345.5 300.0,346.6 302.8,347.5 305.5,350.2 308.3,350.9 311.1,352.9 313.9,354.1 316.6,356.6 319.4,360.7 322.2,364.2 325.0,364.7 327.8,364.5 330.5,366.1 333.3,365.9 336.1,365.5 338.9,367.2 341.6,367.9 344.4,368.7 347.2,371.3 350.0,372.5 352.8,373.5 355.5,375.5 358.3,377.1 361.1,379.5 363.9,381.1 366.6,383.6 369.4,385.6 372.2,387.9"/>
<polyline class="g" points="206.3,330.5 209.0,331.2 211.8,330.7 214.6,329.9 217.4,330.0 220.1,329.3 222.9,330.4 225.7,331.5 228.5,332.3 231.3,333.3 234.0,332.6 236.8,332.0 239.6,332.1 242.4,332.7 245.1,333.3 247.9,332.6 250.7,333.6 253.5,335.6 256.3,336.7 259.0,337.7 261.8,336.7 264.6,335.3 267.4,335.4 270.1,335.6 272.9,336.3 275.7,335.3 278.5,335.8 281.3,335.9 284.0,336.8 286.8,337.9 289.6,337.9 292.4,338.0 295.1,338.9 297.9,338.4 300.7,339.3 303.5,339.3 306.3,340.9"/>
<polyline class="g" points="273.3,336.0 276.1,336.0 278.9,336.7 281.7,337.6 284.4,336.9 287.2,336.6 290.0,336.3 292.8,337.0 295.6,337.0 298.3,337.3 301.1,337.6 303.9,336.9 306.7,337.0 309.4,338.3 312.2,339.4 315.0,340.7 317.8,341.2 320.6,341.3 323.3,340.5 326.1,339.6 328.9,338.6 331.7,336.8 334.4,337.4 337.2,336.7 340.0,337.0 342.8,337.5 345.6,337.2 348.3,336.1 351.1,337.3 353.9,337.8 356.7,337.8 359.4,338.7 362.2,339.3 365.0,338.5 367.8,338.6 370.6,337.5 373.3,337.8"/>
<polyline class="g" points="243.8,338.1 246.6,337.4 249.3,338.8 252.1,339.4 254.9,339.2 257.7,339.5 260.5,339.5 263.2,340.2 266.0,340.3 268.8,341.8 271.6,342.2 274.3,343.1 277.1,344.4 279.9,345.2 282.7,346.0 285.5,346.9 288.2,348.3 291.0,348.4 293.8,349.0 296.6,348.9 299.3,347.9 302.1,349.5 304.9,349.3 307.7,350.6 310.5,352.5 313.2,353.5 316.0,353.2 318.8,353.3 321.6,354.0 324.3,354.6 327.1,356.0 329.9,357.1 332.7,358.8 335.5,358.8 338.2,360.7 341.0,360.2 343.8,360.6"/>
<polyline class="g" points="171.9,346.5 174.6,345.8 177.4,346.6 180.2,347.4 183.0,347.7 185.7,347.9 188.5,347.7 191.3,347.6 194.1,348.2 196.9,348.3 199.6,348.3 202.4,349.4 205.2,350.3 208.0,350.9 210.7,351.4 213.5,352.6 216.3,353.5 219.1,354.6 221.9,356.0 224.6,357.4 227.4,358.3 230.2,358.0 233.0,359.1 235.7,358.6 238.5,359.2 241.3,360.8 244.1,363.1 246.9,363.4 249.6,363.6 252.4,364.0 255.2,363.9 258.0,364.8 260.7,365.5 263.5,366.1 266.3,368.1 269.1,368.5 271.9,370.7"/>
<polyline class="g" points="371.1,344.9 373.9,345.0 376.7,346.4 379.5,346.0 382.3,345.3 385.0,346.6 387.8,345.9 390.6,348.0 393.4,347.8 396.1,346.8 398.9,346.7 401.7,346.9 404.5,346.8 407.3,346.7 410.0,347.6 412.8,348.6 415.6,349.9 418.4,351.3 421.1,350.7 423.9,351.4 426.7,351.3 429.5,351.4 432.3,352.3 435.0,353.1 437.8,353.7 440.6,352.7 443.4,354.6 446.1,355.7 448.9,357.3 451.7,358.5 454.5,359.3 457.3,360.0 460.0,360.4 462.8,361.5 465.6,361.0 468.4,362.3 471.1,362.8"/>
<polyline class="g" points="382.9,339.8 385.7,339.8 388.4,341.0 391.2,341.8 394.0,341.7 396.8,343.6 399.6,343.2 402.3,342.9 405.1,343.0 407.9,342.9 410.7,343.3 413.4,344.1 416.2,345.6 419.0,345.3 421.8,345.7 424.6,346.7 427.3,348.0 430.1,349.6 432.9,349.9 435.7,351.8 438.4,352.0 441.2,352.5 444.0,353.5 446.8,355.2 449.6,356.2 452.3,357.1 455.1,357.6 457.9,358.8 460.7,360.1 463.4,360.9 466.2,361.9 469.0,361.8 471.8,362.9 474.6,365.2 477.3,367.4 480.1,368.3 482.9,367.9"/>
<polyline class="g" points="214.9,339.3 217.7,339.4 220.5,339.6 223.3,341.6 226.0,342.1 228.8,341.5 231.6,342.6 234.4,344.5 237.1,346.0 239.9,347.2 242.7,346.9 245.5,348.0 248.3,349.0 251.0,349.8 253.8,351.3 256.6,352.2 259.4,353.3 262.1,354.3 264.9,356.7 267.7,357.5 270.5,358.9 273.3,360.9 276.0,363.0 278.8,364.2 281.6,365.4 284.4,367.3 287.1,366.9 289.9,368.8 292.7,370.6 295.5,373.0 298.3,373.2 301.0,376.7 303.8,377.2 306.6,378.2 309.4,379.6 312.1,380.8 314.9,382.9"/>
<polyline class="g" points="153.8,330.6 156.6,331.1 159.4,332.4 162.2,333.2 164.9,333.3 167.7,333.2 170.5,333.8 173.3,332.6 176.0,332.7 178.8,332.7 181.6,333.5 184.4,333.7 187.2,336.0 189.9,336.6 192.7,337.1 195.5,339.1 198.3,339.3 201.0,339.3 203.8,340.4 206.6,340.7 209.4,340.7 212.2,340.9 214.9,340.0 217.7,339.3 220.5,338.9 223.3,339.2 226.0,340.2 228.8,339.6 231.6,339.6 234.4,339.2 237.2,341.1 239.9,341.9 242.7,342.2 245.5,341.5 248.3,341.2 251.0,341.3 253.8,341.9"/>
<polyline class="g" points="219.4,335.5 222.2,337.2 225.0,339.0 227.8,338.9 230.5,339.4 233.3,339.6 236.1,340.9 238.9,341.3 241.7,341.0 244.4,341.1 247.2,342.4 250.0,343.5 252.8,344.3 255.5,345.5 258.3,347.2 261.1,347.9 263.9,350.2 266.7,351.6 269.4,356.5 272.2,358.3 275.0,358.6 277.8,358.2 280.5,355.8 283.3,355.5 286.1,355.7 288.9,355.9 291.7,355.7 294.4,356.9 297.2,356.2 300.0,356.6 302.8,357.6 305.5,358.3 308.3,358.1 311.1,358.3 313.9,359.7 316.7,360.0 319.4,359.2"/>
<polyline class="g" points="379.1,343.8 381.9,345.9 384.7,347.7 387.5,349.6 390.3,350.1 393.0,351.6 395.8,352.5 398.6,353.3 401.4,356.1 404.1,357.4 406.9,358.7 409.7,358.5 412.5,360.0 415.3,362.1 418.0,363.5 420.8,364.6 423.6,367.3 426.4,368.4 429.1,369.6 431.9,371.0 434.7,372.2 437.5,374.3 440.3,376.0 443.0,377.1 445.8,378.2 448.6,379.4 451.4,382.0 454.1,382.9 456.9,384.6 459.7,384.8 462.5,386.5 465.3,388.5 468.0,390.7 470.8,392.0 473.6,393.6 476.4,394.9 479.1,396.8"/>
<polyline class="g" points="177.9,344.7 180.7,346.0 183.5,346.8 186.2,345.5 189.0,345.5 191.8,345.9 194.6,346.5 197.4,347.8 200.1,348.6 202.9,347.5 205.7,347.8 208.5,348.4 211.2,349.3 214.0,349.9 216.8,351.4 219.6,351.3 222.4,351.1 225.1,351.7 227.9,352.2 230.7,352.6 233.5,353.6 236.2,354.1 239.0,353.0 241.8,352.9 244.6,352.6 247.4,353.9 250.1,354.3 252.9,354.4 255.7,354.6 258.5,355.7 261.2,354.6 264.0,354.6 266.8,355.8 269.6,355.3 272.4,354.6 275.1,355.0 277.9,355.1"/>
<polyline class="g" points="175.7,332.0 178.5,333.2 181.3,333.7 184.1,332.9 186.8,332.7 189.6,334.5 192.4,336.3 195.2,337.9 197.9,338.7 200.7,338.3 203.5,339.2 206.3,340.7 209.1,342.8 211.8,343.5 214.6,344.2 217.4,344.9 220.2,347.0 222.9,348.9 225.7,348.7 228.5,350.7 231.3,350.8 234.1,350.7 236.8,350.8 239.6,351.7 242.4,354.8 245.2,357.5 247.9,357.3 250.7,357.8 253.5,359.1 256.3,360.4 259.1,361.2 261.8,361.2 264.6,362.3 267.4,363.3 270.2,363.5 272.9,365.3 275.7,365.9"/>
<polyline class="g" points="104.4,337.1 107.2,336.7 109.9,336.2 112.7,337.9 115.5,339.1 118.3,340.0 121.0,340.5 123.8,342.7 126.6,342.3 129.4,343.1 132.2,344.6 134.9,346.0 137.7,347.4 140.5,347.5 143.3,349.5 146.0,351.7 148.8,352.7 151.6,354.9 154.4,356.0 157.2,357.2 159.9,358.3 162.7,359.2 165.5,360.3 168.3,362.4 171.0,364.5 173.8,366.0 176.6,367.5 179.4,367.9 182.2,369.2 184.9,371.2 187.7,372.8 190.5,374.0 193.3,375.1 196.0,377.7 198.8,379.8 201.6,379.5 204.4,383.7"/>
<polyline class="g" points="100.0,332.1 102.8,332.2 105.6,333.6 108.4,333.4 111.1,333.1 113.9,333.1 116.7,332.7 119.5,333.7 122.3,333.5 125.0,334.7 127.8,335.8 130.6,336.6 133.4,337.7 136.1,338.2 138.9,337.9 141.7,339.2 144.5,340.8 147.3,340.4 150.0,340.1 152.8,341.1 155.6,341.4 158.4,342.4 161.1,342.9 163.9,343.2 166.7,343.8 169.5,344.8 172.3,345.2 175.0,345.5 177.8,346.3 180.6,346.6 183.4,348.9 186.1,348.7 188.9,348.3 191.7,348.3 194.5,350.1 197.3,350.6 200.0,351.7"/>
<polyline class="g" points="177.0,359.7 179.8,360.0 182.5,360.1 185.3,359.0 188.1,359.2 190.9,360.2 193.7,362.4 196.4,363.9 199.2,363.9 202.0,363.6 204.8,364.4 207.5,364.5 210.3,365.1 213.1,366.2 215.9,367.0 218.7,368.3 221.4,370.5 224.2,370.3 227.0,372.7 229.8,372.0 232.5,371.9 235.3,372.7 238.1,371.5 240.9,370.7 243.7,370.9 246.4,370.6 249.2,370.9 252.0,371.6 254.8,372.0 257.5,372.2 260.3,372.4 263.1,372.3 265.9,373.6 268.7,376.5 271.4,376.3 274.2,375.4 277.0,377.3"/>
<polyline class="g" points="195.4,346.2 198.1,345.8 200.9,345.8 203.7,345.4 206.5,346.6 209.2,347.7 212.0,348.5 214.8,349.0 217.6,350.1 220.4,350.3 223.1,351.2 225.9,352.1 228.7,353.3 231.5,353.8 234.2,354.2 237.0,355.2 239.8,355.1 242.6,355.6 245.4,359.2 248.1,361.4 250.9,362.2 253.7,362.4 256.5,362.2 259.2,361.6 262.0,360.7 264.8,361.5 267.6,360.6 270.4,363.5 273.1,363.2 275.9,365.1 278.7,366.1 281.5,365.4 284.2,365.5 287.0,366.6 289.8,367.8 292.6,368.5 295.4,369.5"/>
<polyline class="g" points="146.6,356.9 149.4,356.9 152.2,356.0 154.9,356.9 157.7,358.2 160.5,358.3 163.3,358.2 166.0,355.6 168.8,356.5 171.6,357.2 174.4,357.9 177.2,358.2 179.9,358.0 182.7,358.9 185.5,359.8 188.3,361.1 191.0,362.6 193.8,363.1 196.6,362.5 199.4,361.2 202.2,359.5 204.9,360.9 207.7,360.6 210.5,361.6 213.3,362.0 216.0,362.2 218.8,362.7 221.6,363.0 224.4,364.3 227.2,364.0 229.9,364.0 232.7,364.2 235.5,364.8 238.3,366.2 241.0,365.7 243.8,364.3 246.6,365.4"/>
<polyline class="g" points="197.7,328.7 200.5,328.0 203.2,328.0 206.0,329.6 208.8,330.1 211.6,330.4 214.4,330.4 217.1,331.0 219.9,331.5 222.7,331.3 225.5,332.6 228.2,332.4 231.0,334.1 233.8,334.6 236.6,334.0 239.4,334.6 242.1,337.0 244.9,338.6 247.7,342.1 250.5,344.2 253.2,345.8 256.0,345.6 258.8,345.6 261.6,344.3 264.4,345.1 267.1,344.8 269.9,345.2 272.7,344.8 275.5,345.8 278.2,347.0 281.0,347.8 283.8,347.9 286.6,349.6 289.4,351.1 292.1,351.8 294.9,353.2 297.7,354.6"/>
<polyline class="g" points="173.6,353.8 176.3,354.5 179.1,354.4 181.9,354.9 184.7,355.0 187.4,356.9 190.2,357.4 193.0,358.1 195.8,358.1 198.6,360.0 201.3,360.5 204.1,360.6 206.9,362.5 209.7,363.3 212.4,363.7 215.2,365.2 218.0,365.7 220.8,367.0 223.6,369.2 226.3,369.9 229.1,371.2 231.9,372.1 234.7,372.8 237.4,372.3 240.2,371.9 243.0,372.6 245.8,373.0 248.6,374.4 251.3,375.5 254.1,376.9 256.9,378.2 259.7,378.5 262.4,379.6 265.2,381.0 268.0,383.1 270.8,384.3 273.6,385.3"/>
<polyline class="g" points="92.0,323.4 94.7,322.5 97.5,322.6 100.3,322.0 103.1,324.0 105.8,325.5 108.6,325.3 111.4,327.2 114.2,327.9 117.0,326.2 119.7,326.9 122.5,326.8 125.3,326.3 128.1,327.1 130.8,328.9 133.6,329.9 136.4,329.6 139.2,330.4 142.0,331.5 144.7,334.1 147.5,335.3 150.3,335.4 153.1,335.1 155.8,333.7 158.6,333.4 161.4,334.5 164.2,333.7 167.0,334.8 169.7,335.6 172.5,337.1 175.3,337.0 178.1,338.5 180.8,340.2 183.6,342.2 186.4,341.1 189.2,341.6 192.0,342.0"/>
<polyline class="g" points="45.2,319.7 48.0,319.9 50.8,320.6 53.6,320.4 56.3,320.1 59.1,319.8 61.9,320.2 64.7,319.5 67.5,319.6 70.2,319.1 73.0,319.8 75.8,320.5 78.6,321.3 81.3,322.1 84.1,322.9 86.9,324.6 89.7,324.2 92.5,324.3 95.2,325.8 98.0,325.8 100.8,326.6 103.6,327.7 106.3,327.5 109.1,326.8 111.9,327.5 114.7,327.2 117.5,327.8 120.2,328.5 123.0,330.2 125.8,330.3 128.6,330.6 131.3,330.9 134.1,333.2 136.9,333.3 139.7,334.2 142.5,334.0 145.2,334.2"/>
<polyline class="g" points="90.8,323.2 93.5,322.3 96.3,323.3 99.1,324.0 101.9,325.0 104.6,325.9 107.4,326.8 110.2,327.6 113.0,327.1 115.8,328.4 118.5,330.6 121.3,330.1 124.1,329.4 126.9,330.5 129.6,331.8 132.4,333.3 135.2,335.1 138.0,334.6 140.8,335.3 143.5,335.8 146.3,336.5 149.1,335.5 151.9,335.7 154.6,335.7 157.4,336.1 160.2,336.6 163.0,337.2 165.8,336.6 168.5,337.6 171.3,338.6 174.1,339.2 176.9,337.5 179.6,338.5 182.4,339.4 185.2,340.2 188.0,342.6 190.8,344.2"/>
<polyline class="g" points="31.9,331.3 34.7,329.8 37.5,330.4 40.2,330.1 43.0,331.0 45.8,332.0 48.6,330.4 51.3,331.1 54.1,330.6 56.9,332.1 59.7,331.2 62.5,332.9 65.2,333.2 68.0,333.6 70.8,334.2 73.6,334.1 76.3,334.7 79.1,337.7 81.9,338.1 84.7,338.1 87.5,340.5 90.2,341.5 93.0,341.5 95.8,341.4 98.6,340.0 101.3,339.5 104.1,339.0 106.9,340.6 109.7,341.6 112.5,341.9 115.2,341.3 118.0,340.7 120.8,341.0 123.6,341.1 126.3,342.0 129.1,341.7 131.9,342.9"/>
<polyline class="g" points="73.6,328.9 76.4,328.1 79.1,327.6 81.9,328.1 84.7,327.2 87.5,327.7 90.2,328.6 93.0,328.6 95.8,328.7 98.6,328.4 101.4,329.0 104.1,328.2 106.9,329.3 109.7,328.9 112.5,328.5 115.2,327.4 118.0,327.5 120.8,328.3 123.6,330.1 126.4,329.8 129.1,330.8 131.9,330.9 134.7,330.0 137.5,329.6 140.2,328.4 143.0,328.6 145.8,326.4 148.6,327.3 151.4,326.2 154.1,325.3 156.9,326.5 159.7,326.7 162.5,327.3 165.2,326.9 168.0,326.6 170.8,326.6 173.6,327.0"/>
<polyline class="g" points="68.9,325.9 71.7,327.9 74.5,327.9 77.2,326.9 80.0,327.0 82.8,327.9 85.6,326.7 88.4,325.5 91.1,327.5 93.9,326.8 96.7,327.9 99.5,328.3 102.2,328.0 105.0,328.1 107.8,329.8 110.6,331.2 113.4,333.9 116.1,335.5 118.9,335.6 121.7,335.9 124.5,333.8 127.2,330.8 130.0,329.3 132.8,328.3 135.6,329.4 138.4,329.7 141.1,329.0 143.9,328.5 146.7,328.6 149.5,328.8 152.2,330.2 155.0,329.5 157.8,328.9 160.6,328.7 163.4,328.5 166.1,329.4 168.9,329.5"/>
<polyline class="g" points="60.6,321.5 63.4,320.4 66.1,320.6 68.9,321.0 71.7,321.7 74.5,321.0 77.3,320.3 80.0,320.2 82.8,319.2 85.6,319.5 88.4,322.0 91.1,322.2 93.9,321.8 96.7,321.6 99.5,323.4 102.3,323.0 105.0,323.8 107.8,324.5 110.6,324.4 113.4,324.0 116.1,322.7 118.9,322.1 121.7,323.1 124.5,324.0 127.3,323.6 130.0,324.1 132.8,324.4 135.6,324.4 138.4,324.3 141.1,325.1 143.9,325.4 146.7,325.0 149.5,324.8 152.3,325.5 155.0,325.0 157.8,324.5 160.6,324.5"/>
<polyline class="g" points="239.4,358.0 242.2,359.5 244.9,359.3 247.7,360.1 250.5,361.1 253.3,361.6 256.0,361.9 258.8,361.4 261.6,363.1 264.4,364.3 267.2,363.8 269.9,363.7 272.7,363.9 275.5,364.4 278.3,366.4 281.0,367.8 283.8,369.6 286.6,370.7 289.4,370.1 292.2,368.6 294.9,368.9 297.7,369.3 300.5,369.1 303.3,368.8 306.0,369.6 308.8,370.3 311.6,371.4 314.4,371.8 317.2,371.7 319.9,371.6 322.7,372.3 325.5,371.8 328.3,372.0 331.0,373.5 333.8,374.6 336.6,375.4 339.4,376.7"/>
<polyline class="g" points="302.8,328.9 305.6,328.2 308.3,328.0 311.1,328.5 313.9,327.2 316.7,328.3 319.4,329.4 322.2,330.2 325.0,330.9 327.8,332.4 330.6,332.1 333.3,333.0 336.1,334.0 338.9,334.3 341.7,333.1 344.4,333.5 347.2,334.0 350.0,333.8 352.8,335.3 355.6,337.4 358.3,338.6 361.1,339.4 363.9,340.9 366.7,340.2 369.4,339.5 372.2,339.8 375.0,341.1 377.8,342.0 380.6,342.6 383.3,342.8 386.1,344.5 388.9,345.7 391.7,345.0 394.4,346.2 397.2,345.4 400.0,347.8 402.8,349.2"/>
<polyline class="g" points="288.7,347.1 291.4,346.6 294.2,347.2 297.0,347.7 299.8,348.2 302.5,349.1 305.3,348.9 308.1,350.3 310.9,351.9 313.7,351.1 316.4,351.3 319.2,352.0 322.0,351.8 324.8,353.1 327.5,354.2 330.3,355.3 333.1,357.0 335.9,357.8 338.7,358.4 341.4,359.5 344.2,360.0 347.0,360.8 349.8,362.1 352.5,361.8 355.3,362.9 358.1,364.7 360.9,365.5 363.7,366.3 366.4,367.5 369.2,368.7 372.0,369.7 374.8,370.3 377.5,371.6 380.3,372.3 383.1,373.5 385.9,374.6 388.7,374.4"/>
<polyline class="g" points="267.4,330.4 270.1,330.1 272.9,329.9 275.7,328.5 278.5,330.1 281.3,329.5 284.0,329.0 286.8,329.9 289.6,330.6 292.4,330.3 295.1,330.6 297.9,331.1 300.7,331.4 303.5,332.1 306.3,332.9 309.0,333.0 311.8,332.6 314.6,335.2 317.4,335.5 320.1,335.1 322.9,335.6 325.7,335.6 328.5,334.6 331.3,336.1 334.0,334.0 336.8,335.1 339.6,335.2 342.4,335.5 345.1,335.9 347.9,335.9 350.7,336.3 353.5,335.6 356.3,335.8 359.0,337.6 361.8,335.9 364.6,337.4 367.4,336.2"/>
<polyline class="g" points="328.1,347.4 330.8,347.5 333.6,347.2 336.4,347.7 339.2,348.0 341.9,347.9 344.7,348.1 347.5,348.8 350.3,348.4 353.1,349.9 355.8,349.9 358.6,349.7 361.4,350.1 364.2,349.5 366.9,350.5 369.7,351.8 372.5,350.9 375.3,351.4 378.1,352.1 380.8,352.1 383.6,351.8 386.4,351.7 389.2,351.5 391.9,352.8 394.7,352.5 397.5,353.6 400.3,354.0 403.1,355.8 405.8,355.9 408.6,356.8 411.4,357.5 414.2,357.6 416.9,357.7 419.7,358.8 422.5,359.1 425.3,358.9 428.1,359.7"/>
<polyline class="g" points="329.0,346.9 331.8,346.1 334.6,346.8 337.3,347.0 340.1,346.9 342.9,346.8 345.7,346.6 348.5,346.3 351.2,345.7 354.0,347.2 356.8,348.1 359.6,347.2 362.3,346.7 365.1,347.5 367.9,349.5 370.7,349.5 373.5,349.6 376.2,350.1 379.0,351.4 381.8,352.7 384.6,354.7 387.3,355.8 390.1,355.7 392.9,355.8 395.7,354.2 398.5,352.8 401.2,354.5 404.0,352.5 406.8,351.5 409.6,350.3 412.3,351.4 415.1,351.4 417.9,352.9 420.7,351.9 423.5,352.7 426.2,353.2 429.0,353.2"/>
<polyline class="g" points="271.6,327.1 274.4,328.0 277.1,330.1 279.9,330.9 282.7,331.5 285.5,331.2 288.3,331.0 291.0,330.7 293.8,330.6 296.6,331.0 299.4,331.4 302.1,330.8 304.9,332.0 307.7,332.5 310.5,333.0 313.3,333.2 316.0,335.6 318.8,337.1 321.6,338.1 324.4,338.0 327.1,338.7 329.9,339.4 332.7,339.5 335.5,340.0 338.3,339.3 341.0,339.4 343.8,340.6 346.6,341.2 349.4,341.6 352.1,342.5 354.9,341.7 357.7,342.5 360.5,343.5 363.3,344.4 366.0,344.9 368.8,344.0 371.6,344.4"/>
<polyline class="g" points="285.6,384.9 288.4,386.1 291.1,386.2 293.9,386.3 296.7,387.0 299.5,386.9 302.3,386.0 305.0,386.0 307.8,386.9 310.6,387.6 313.4,387.0 316.1,388.2 318.9,388.6 321.7,387.7 324.5,388.5 327.3,389.6 330.0,390.1 332.8,390.1 335.6,389.9 338.4,391.1 341.1,391.5 343.9,391.6 346.7,391.4 349.5,390.8 352.3,389.9 355.0,390.4 357.8,391.8 360.6,392.8 363.4,392.5 366.1,394.0 368.9,393.9 371.7,393.4 374.5,394.5 377.3,395.6 380.0,395.3 382.8,394.6 385.6,394.9"/>
<polyline class="g" points="259.4,372.1 262.2,370.8 265.0,370.6 267.8,372.4 270.6,372.1 273.3,372.2 276.1,373.5 278.9,372.8 281.7,372.9 284.4,372.3 287.2,374.1 290.0,374.8 292.8,376.2 295.6,376.7 298.3,377.2 301.1,377.3 303.9,377.9 306.7,377.4 309.4,377.8 312.2,378.0 315.0,380.1 317.8,379.8 320.6,380.1 323.3,380.8 326.1,380.9 328.9,381.1 331.7,381.0 334.4,381.2 337.2,381.0 340.0,380.8 342.8,380.8 345.6,380.7 348.3,380.0 351.1,381.8 353.9,380.7 356.7,382.3 359.4,382.7"/>
<polyline class="g" points="333.8,348.1 336.6,347.3 339.4,347.0 342.1,347.1 344.9,347.2 347.7,348.5 350.5,349.0 353.2,349.0 356.0,349.6 358.8,349.3 361.6,350.8 364.4,352.2 367.1,354.1 369.9,355.6 372.7,357.8 375.5,359.2 378.2,361.3 381.0,362.8 383.8,362.7 386.6,363.7 389.4,364.3 392.1,365.0 394.9,365.6 397.7,368.4 400.5,369.5 403.2,370.2 406.0,371.1 408.8,373.2 411.6,374.7 414.4,375.8 417.1,377.1 419.9,379.7 422.7,381.6 425.5,384.1 428.2,385.7 431.0,386.6 433.8,389.2"/>
<polyline class="g" points="292.0,330.8 294.8,332.3 297.6,332.7 300.4,333.3 303.1,333.6 305.9,332.7 308.7,332.6 311.5,331.9 314.2,331.4 317.0,332.2 319.8,333.1 322.6,334.2 325.4,336.1 328.1,335.3 330.9,335.2 333.7,335.4 336.5,336.7 339.2,337.2 342.0,337.3 344.8,339.0 347.6,339.8 350.4,340.1 353.1,341.7 355.9,342.6 358.7,342.2 361.5,342.6 364.2,342.7 367.0,342.9 369.8,343.2 372.6,343.9 375.4,344.2 378.1,345.4 380.9,346.8 383.7,347.3 386.5,347.0 389.2,348.6 392.0,349.0"/>
<polyline class="g" points="241.5,346.8 244.3,348.4 247.1,347.4 249.9,348.7 252.7,349.9 255.4,350.0 258.2,351.2 261.0,352.3 263.8,352.8 266.5,354.6 269.3,357.2 272.1,358.7 274.9,360.5 277.7,362.8 280.4,364.4 283.2,367.0 286.0,367.9 288.8,369.1 291.5,370.0 294.3,371.0 297.1,370.8 299.9,371.1 302.7,372.4 305.4,373.4 308.2,374.7 311.0,376.6 313.8,377.3 316.5,379.3 319.3,380.9 322.1,382.0 324.9,382.5 327.7,383.7 330.4,385.4 333.2,387.8 336.0,387.9 338.8,390.3 341.5,392.1"/>
<polyline class="g" points="241.9,351.4 244.7,350.7 247.5,350.1 250.2,351.0 253.0,351.7 255.8,352.1 258.6,351.7 261.3,351.3 264.1,351.5 266.9,351.2 269.7,351.5 272.5,351.2 275.2,353.6 278.0,353.5 280.8,352.5 283.6,354.1 286.3,356.3 289.1,355.9 291.9,356.9 294.7,355.6 297.5,355.9 300.2,355.9 303.0,356.5 305.8,356.2 308.6,357.8 311.3,356.4 314.1,357.8 316.9,357.1 319.7,357.0 322.5,355.7 325.2,355.8 328.0,356.0 330.8,355.4 333.6,355.4 336.3,356.0 339.1,357.7 341.9,359.3"/>
<polyline class="g" points="299.0,342.9 301.8,342.5 304.6,344.1 307.4,344.1 310.1,343.9 312.9,346.5 315.7,348.4 318.5,348.6 321.2,348.9 324.0,350.4 326.8,352.9 329.6,354.0 332.4,355.2 335.1,355.0 337.9,354.8 340.7,356.4 343.5,358.5 346.2,359.9 349.0,361.6 351.8,364.6 354.6,365.9 357.4,368.5 360.1,370.0 362.9,369.6 365.7,369.6 368.5,369.6 371.2,370.3 374.0,370.2 376.8,371.0 379.6,372.2 382.4,373.4 385.1,374.6 387.9,376.0 390.7,376.9 393.5,377.8 396.2,379.7 399.0,380.4"/>
</g>
<line x1="8" y1="314.8" x2="703" y2="314.8" stroke="#d9d9d9" stroke-width="1" stroke-dasharray="4.2 2.2"/>
<polyline class="c" stroke="#3faf70" points="272.9,129.2 274.0,128.1 275.1,126.3 276.3,125.2 277.4,123.6 278.3,121.9 279.2,120.9 280.2,119.1 281.1,117.4 282.0,115.9 283.1,115.0 284.3,113.6 285.4,112.5 287.1,111.2 288.8,110.2 290.3,108.8 291.8,107.3 293.3,105.8 294.4,104.1 295.6,102.9 296.7,101.6 297.8,99.9 298.9,98.2 300.0,96.1 301.4,94.7 302.8,93.3 304.9,91.2 305.2,89.2 305.6,87.4 305.9,85.2 306.3,83.5 307.5,81.8 308.7,80.3 309.9,79.6 311.3,77.7 312.7,76.8 314.1,75.5 316.9,76.7 319.0,77.0 321.1,77.2 322.4,78.7 323.7,79.7 324.3,77.8 324.9,76.0 325.5,74.2 326.1,72.7 326.6,74.4 327.2,76.7 328.0,74.2 328.9,72.2 329.4,70.6 329.9,68.6 330.4,68.0 330.9,65.7 331.5,64.0 332.1,62.2 332.8,61.0 333.4,58.5 334.9,57.7 336.4,56.2 337.0,54.6 337.7,52.9 338.3,51.6 339.0,49.6 339.6,48.1 340.3,46.7 340.9,45.6 341.5,43.1 342.2,42.0 342.8,40.5 343.4,38.5 344.1,36.9 344.7,35.1 345.3,33.9 345.9,32.1 346.5,30.2 347.2,28.4 347.8,26.6 348.4,24.9 348.9,23.0 349.4,21.9 349.9,19.5 350.4,16.9 350.9,15.6 352.1,14.6 353.4,13.6 353.9,11.8 354.5,10.0 355.1,8.3 355.6,6.5"/>
<polyline class="c" stroke="#3faf70" points="450.2,163.4 452.0,162.0 453.9,161.4 455.6,162.1 457.4,162.3 459.2,163.1 460.9,163.3 462.7,163.1 464.8,161.9 466.8,161.3 468.9,159.1 470.5,158.5 472.1,158.0 474.8,159.7 476.4,160.0 478.0,159.7 479.6,159.2 481.0,157.8 482.3,156.2 483.9,154.9 485.5,153.7 487.6,152.9 488.7,151.6 489.8,150.3 492.2,151.6 494.9,151.1 496.2,150.5 497.5,149.5 500.2,150.7 502.1,149.2 504.2,150.1 506.2,148.7 508.2,147.6 509.6,146.5 510.9,145.5 512.3,144.2 514.3,143.4 516.3,142.3 517.6,140.1 518.9,137.6 519.6,136.3 520.2,135.1 520.9,133.3 521.6,131.5 522.5,130.1 523.4,129.1 524.3,127.5 525.6,126.9 527.0,125.7 528.3,124.9 529.7,123.7 531.0,122.5 531.9,120.7 532.8,119.2 533.6,117.9 534.5,116.8 535.4,115.4 536.3,113.7 537.4,112.8 538.5,111.9 539.6,110.6 540.8,109.3 541.9,108.0 543.0,107.1 544.2,106.0 545.5,104.5 546.7,103.4 548.0,102.1 549.2,101.0"/>
<polyline class="c" stroke="#3faf70" points="512.4,263.4 514.3,263.1 516.3,262.0 518.5,261.1 520.7,260.3 522.7,259.6 524.6,259.2 526.6,259.0 528.1,257.7 529.6,257.1 531.1,256.6 532.6,255.2 534.0,253.3 535.5,252.0 537.0,251.1 538.4,250.7 539.9,250.2 541.4,248.9 542.9,247.3 544.4,246.0 545.9,245.3 547.3,244.0 548.8,243.2 551.0,242.7 553.2,241.8 555.2,242.5 557.2,242.2 559.2,242.7 561.4,242.6 563.6,242.8 565.6,243.3 567.5,243.4 569.5,243.2 571.5,242.4 573.4,241.1 575.4,240.4 576.9,239.3 578.3,238.4 579.8,237.7 581.3,236.7 582.8,235.8 584.3,234.5 585.7,233.3 587.2,232.4 588.7,231.3 590.2,230.7 591.7,229.4 593.1,229.1 594.6,227.7 596.1,227.0 597.6,225.9 599.1,225.7 600.5,224.8 602.0,224.1 603.5,223.5 605.1,222.6 606.8,221.8 608.4,220.8 610.1,220.8 611.7,220.4"/>
<polyline class="c" stroke="#3faf70" points="610.0,275.6 612.0,275.3 613.9,275.8 616.1,275.3 618.3,275.6 620.2,275.0 622.0,274.8 623.9,273.8 626.0,273.6 628.0,273.6 630.1,273.7 632.0,273.5 633.8,272.6 635.7,272.0 637.3,271.2 638.9,270.1 640.4,269.2 642.0,268.9 644.0,268.4 645.9,267.8 647.9,267.5 649.5,266.7 651.1,266.4 652.7,265.9 654.3,265.4 656.2,266.2 658.2,266.8 661.1,267.9 663.1,268.5 665.0,269.5 667.0,269.8 668.5,269.2 670.1,268.3 672.9,267.0 674.4,266.6 675.9,265.6 677.4,265.4 678.9,264.5 680.4,263.8 683.0,262.6 684.7,261.9 686.3,261.1 688.0,260.3 689.7,259.0 691.5,257.6 693.2,256.8 695.0,256.2 696.7,255.3 698.8,254.8 700.8,254.0 702.9,254.0 705.0,254.5"/>
<polyline class="c" stroke="#86cb85" points="352.2,309.4 353.8,309.1 355.4,309.6 357.0,309.4 358.6,309.8 360.3,309.8 362.0,310.5 363.6,310.7 365.3,311.1 367.0,311.0 368.7,310.9 370.3,311.2 372.0,311.1 373.7,310.4 375.5,310.6 377.2,310.7 378.9,310.2 380.6,310.3 382.2,309.6 383.9,309.3 385.6,309.4 387.3,310.0 389.0,310.4 390.7,310.2 392.4,310.0 394.1,310.9 395.8,311.3 397.5,312.2 399.2,312.6 400.9,313.7 402.6,314.5 404.2,315.1 405.9,315.5 407.6,316.0 409.3,316.2 411.0,316.6 412.7,316.9 414.4,317.3 416.1,317.4 417.8,317.7 419.5,317.3 421.1,317.3 422.8,317.2 424.5,316.4 426.2,315.3 427.9,315.3 429.6,314.6 431.3,314.0 433.0,313.4 434.7,312.7 436.4,311.6 438.0,310.9 439.7,310.1 441.4,309.8 443.1,308.8 444.8,308.9 446.5,309.1 448.1,308.7 449.8,308.8 451.5,309.4"/>
<polyline class="c" stroke="#86cb85" points="413.0,332.3 415.4,332.4 417.7,332.7 419.4,331.6 421.1,330.4 422.6,329.5 424.1,329.1 425.5,328.2 427.0,327.8 428.9,327.5 430.9,327.0 433.0,327.5 434.6,326.7 436.2,326.1 437.9,325.3 439.5,324.6 441.8,323.6 444.1,323.0 446.2,322.8 448.4,322.4 451.5,323.2 453.0,324.3 454.5,325.0 456.1,326.5 457.8,327.6 459.6,329.3 461.3,330.5 462.9,331.2 464.5,332.8 466.2,333.8 468.0,334.9 469.8,335.5 471.5,336.3 473.1,336.1 474.8,336.3 476.6,335.7 478.3,334.9 480.0,334.4 481.6,334.4 483.3,333.2 485.0,333.0 486.7,332.6 488.4,332.3 490.0,332.1 491.7,332.0 493.6,331.2 495.4,330.9 497.3,330.5 499.6,330.2 501.9,329.2 504.2,329.1 506.5,328.9 508.1,328.9 509.6,327.7 511.2,327.0"/>
<polyline class="c" stroke="#f0895f" points="336.8,341.3 338.4,341.1 340.0,341.4 341.7,340.9 343.5,340.4 345.2,340.6 346.8,340.8 348.5,340.5 350.1,340.5 351.7,339.8 353.4,339.9 355.0,340.2 356.8,340.5 358.5,341.1 360.3,340.8 362.6,340.3 365.0,340.9 366.8,340.9 368.6,341.2 370.4,341.5 372.7,342.0 375.0,342.6 376.9,343.3 378.9,343.1 380.4,343.5 382.0,344.5 384.8,345.1 387.0,346.7 389.0,347.8 392.0,348.6 393.9,349.4 395.8,349.9 397.9,350.1 400.0,350.7 402.1,350.5 404.2,350.7 406.4,351.2 408.5,351.4 410.6,351.0 412.7,351.2 414.9,351.2 417.0,351.5 419.1,351.7 421.1,351.5 422.8,351.2 424.5,351.0 426.2,350.8 427.9,351.2 429.7,351.5 431.5,351.6 433.6,351.3 435.6,350.7"/>
<polyline class="c" stroke="#f0895f" points="300.0,360.0 301.7,360.4 303.3,360.8 305.0,360.6 306.7,361.0 308.3,361.9 310.0,361.8 311.7,361.8 313.4,362.2 315.1,363.2 316.7,363.8 318.4,363.7 320.1,363.8 323.1,364.6 324.5,365.2 325.9,366.1 327.8,366.4 329.6,366.4 331.5,366.7 333.2,366.5 334.9,366.1 336.6,365.7 338.3,365.9 339.8,367.1 341.3,367.5 342.8,368.0 344.5,368.6 346.2,368.9 348.4,368.5 350.7,368.8 352.9,368.8 355.2,369.1 356.3,368.3 358.0,370.8 360.0,371.2 362.0,371.7 365.1,371.9"/>
<polyline class="c" stroke="#f0895f" points="401.4,394.4 403.7,395.1 406.0,395.2 408.3,395.2 410.6,394.9 412.2,394.7 413.9,394.8 415.5,394.5 417.2,394.2 419.0,393.7 420.7,393.6 422.8,393.5 424.9,393.1 427.0,392.9 428.9,393.2 430.7,392.6 432.6,392.6 434.5,392.8 436.5,393.8 438.4,394.2 440.5,394.5 442.7,394.7 445.5,395.7 447.8,397.4 449.0,398.3 450.2,399.9 451.4,401.6 452.7,402.7 454.4,404.3 456.0,405.8 457.8,406.4 459.6,407.5 461.6,408.0 463.5,408.5 465.1,409.2 466.8,409.3 468.4,409.9 470.7,410.6 473.0,411.3 474.7,411.6 476.5,411.7 478.2,412.2 480.1,411.8 482.1,412.4 484.0,412.5 486.1,412.7 488.3,413.2 490.2,413.3 492.1,413.4 494.0,414.1 496.1,414.6 498.1,415.5 500.2,416.1"/>
<polyline class="c" stroke="#f0895f" points="101.3,332.5 102.9,333.2 104.6,333.1 106.3,332.2 107.4,330.2 108.5,328.2 109.4,329.8 110.3,331.7 111.7,331.1 113.0,330.6 115.7,330.8 116.6,329.0 117.5,326.9 118.4,328.1 119.3,329.0 120.7,330.2 122.0,331.8 124.3,331.1 125.4,332.9 126.6,334.1 127.7,336.1 129.9,334.9 131.1,333.5 132.2,332.2 133.9,331.3 135.6,331.1 136.7,332.4 137.8,334.5 138.6,332.9 139.3,331.2 140.1,330.0 141.4,331.0 142.8,332.8 144.2,333.4 145.7,334.3 146.8,335.7 148.0,337.7 149.1,338.7 150.2,340.6 151.3,341.8 152.5,343.3 153.6,344.5 155.3,345.3 157.0,346.0 158.7,346.2 160.4,346.3 161.9,347.3 163.4,348.3 164.9,349.0 167.1,347.0 167.8,344.5 168.5,342.6 169.2,344.0 169.8,345.9 170.5,347.3 172.2,345.5 173.9,344.4 176.1,346.7 177.2,348.1 178.4,349.3 180.1,348.6 181.8,348.4 183.4,347.6 185.1,347.0 186.8,347.0 188.6,346.7 190.3,346.4 192.0,345.9 193.6,345.6 195.2,345.5 196.8,345.4 198.4,345.4 200.0,345.0"/>
<polyline class="c" stroke="#f0895f" points="203.0,386.5 204.8,387.1 206.5,387.5 208.2,388.0 210.0,388.6 211.6,389.0 213.2,389.4 214.8,389.6 216.4,390.3 218.0,390.8 219.6,391.4 221.1,392.0 222.7,393.0 224.3,394.5 225.9,395.1 227.4,395.6 229.0,396.3 230.5,396.8 232.0,397.7 233.5,398.3 235.1,399.0 236.6,400.0 238.1,400.9 239.6,401.7 240.9,402.4 242.2,403.6 243.4,404.3 244.7,405.6 246.0,406.4 247.3,407.4 248.8,408.3 250.4,409.1 251.9,409.3 253.5,409.9 255.0,410.8 256.9,411.1 258.8,411.1 260.7,412.1 262.6,412.9 264.2,413.8 265.7,414.4 267.3,415.1 268.9,415.8 270.4,416.8 272.0,417.4 273.7,418.1 275.3,418.6 277.0,419.6 278.7,420.2 280.3,421.1 282.0,421.1 283.7,421.9 285.3,422.5 287.0,423.0 288.7,424.1 290.3,424.7 292.0,425.1 293.7,425.5 295.3,426.6 297.0,427.2 298.7,427.8 300.3,428.0 302.0,428.5"/>
<polyline class="c" stroke="#e2584c" points="71.8,421.2 74.7,420.4 76.2,419.6 77.7,418.3 79.1,420.3 80.8,420.6 82.6,421.6 85.6,422.3 88.5,421.6 91.5,422.8 94.4,423.7 96.0,424.8 98.4,423.7 101.4,424.2 104.3,422.8 107.3,423.3 110.2,422.5 112.2,423.8 113.7,424.9 115.2,426.1 116.8,427.1 118.5,428.1 119.8,429.4 121.1,431.4 122.5,432.9 124.0,434.4 126.4,433.5 128.2,435.1 130.0,435.5 131.9,436.1 133.9,437.4 135.2,438.2 136.5,439.7 137.8,440.3 139.1,441.3 140.5,442.6 141.8,443.8 143.0,445.1 144.1,446.4 145.3,447.6 146.2,448.9 147.2,450.3 148.1,452.2 150.7,452.7 153.0,451.7 155.6,452.5 158.6,451.9 161.5,453.3 163.5,452.2 165.8,453.7 168.4,454.1 170.8,454.3"/>
</g>
<line x1="704.4" y1="52.6" x2="704.4" y2="55.6" stroke="#8a8a8a" stroke-width="1"/>
<line x1="704.4" y1="67.6" x2="704.4" y2="70.6" stroke="#8a8a8a" stroke-width="1"/>
<line x1="704.4" y1="82.4" x2="704.4" y2="85.4" stroke="#8a8a8a" stroke-width="1"/>
<line x1="704.4" y1="97.4" x2="704.4" y2="100.4" stroke="#8a8a8a" stroke-width="1"/>
<line x1="704.4" y1="112.7" x2="704.4" y2="115.7" stroke="#8a8a8a" stroke-width="1"/>
<line x1="704.4" y1="127.7" x2="704.4" y2="130.7" stroke="#8a8a8a" stroke-width="1"/>
<line x1="704.4" y1="142.8" x2="704.4" y2="145.8" stroke="#8a8a8a" stroke-width="1"/>
<line x1="704.4" y1="158.1" x2="704.4" y2="161.1" stroke="#8a8a8a" stroke-width="1"/>
</svg>
<span class="t" id="t0" style="left:313.4px;top:83.3px;height:11px;line-height:11px;font-size:7.4px;color:#444;transform:scaleX(0.9811);transform-origin:left center;">Electronic shopping and</span>
<span class="t" id="t1" style="left:313.4px;top:90.2px;height:11px;line-height:11px;font-size:7.4px;color:#444;transform:scaleX(1.0000);transform-origin:left center;">auctions</span>
<span class="t" id="t2" style="left:552.7px;top:90.7px;height:11px;line-height:11px;font-size:7.4px;color:#444;transform:scaleX(0.9847);transform-origin:left center;">Internet publishing,</span>
<span class="t" id="t3" style="left:552.7px;top:97.7px;height:11px;line-height:11px;font-size:7.4px;color:#444;transform:scaleX(0.9751);transform-origin:left center;">broadcasting, search</span>
<span class="t" id="t4" style="left:596.0px;top:199.1px;height:11px;line-height:11px;font-size:7.4px;color:#444;transform:scaleX(0.9593);transform-origin:left center;">Computer systems</span>
<span class="t" id="t5" style="left:596.0px;top:206.0px;height:11px;line-height:11px;font-size:7.4px;color:#444;transform:scaleX(0.9882);transform-origin:left center;">design and programming</span>
<span class="t" id="t6" style="left:616.3px;top:251.5px;height:11px;line-height:11px;font-size:7.4px;color:#444;transform:scaleX(0.9675);transform-origin:left center;">Software publishers</span>
<span class="t" id="t7" style="left:351.8px;top:281.4px;height:11px;line-height:11px;font-size:7.4px;color:#444;transform:scaleX(0.9708);transform-origin:left center;">Data processing, web</span>
<span class="t" id="t8" style="left:351.8px;top:288.5px;height:11px;line-height:11px;font-size:7.4px;color:#444;transform:scaleX(0.9877);transform-origin:left center;">hosting and related</span>
<span class="t" id="t9" style="left:351.8px;top:295.6px;height:11px;line-height:11px;font-size:7.4px;color:#444;transform:scaleX(0.9480);transform-origin:left center;">services</span>
<span class="t" id="t10" style="left:514.7px;top:318.8px;height:11px;line-height:11px;font-size:7.4px;color:#444;transform:scaleX(0.9680);transform-origin:left center;">Advertising and public</span>
<span class="t" id="t11" style="left:514.7px;top:325.7px;height:11px;line-height:11px;font-size:7.4px;color:#444;transform:scaleX(0.9915);transform-origin:left center;">relations</span>
<span class="t" id="t12" style="left:377.4px;top:398.9px;height:11px;line-height:11px;font-size:7.4px;color:#444;transform:scaleX(0.9574);transform-origin:left center;">Periodical publishers</span>
<span class="t" id="t13" style="left:162.2px;top:317.7px;height:11px;line-height:11px;font-size:7.4px;color:#666;transform:scaleX(0.9710);transform-origin:left center;">Video and photography</span>
<span class="t" id="t14" style="left:162.2px;top:324.5px;height:11px;line-height:11px;font-size:7.4px;color:#666;transform:scaleX(0.9480);transform-origin:left center;">services</span>
<span class="t" id="t15" style="left:127.7px;top:379.2px;height:11px;line-height:11px;font-size:7.4px;color:#707070;transform:scaleX(1.0000);transform-origin:left center;">Printing and related</span>
<span class="t" id="t16" style="left:163.7px;top:386.4px;height:11px;line-height:11px;font-size:7.4px;color:#707070;transform:scaleX(1.0000);transform-origin:left center;">activities</span>
<span class="t" id="t17" style="right:572.2px;top:441.9px;height:11px;line-height:11px;font-size:7.4px;color:#444;transform:scaleX(0.9763);transform-origin:right center;">Bookstores and news</span>
<span class="t" id="t18" style="right:572.2px;top:448.8px;height:11px;line-height:11px;font-size:7.4px;color:#444;transform:scaleX(0.9485);transform-origin:right center;">dealers</span>
<span class="t" id="t19" style="right:376.4px;top:367.8px;height:11px;line-height:11px;font-size:7.4px;color:#444;transform:scaleX(0.8988);transform-origin:right center;">(and</span>
<span class="t" id="t20" style="right:391.4px;top:367.8px;height:11px;line-height:11px;font-size:7.4px;color:#444;transform:scaleX(1.0000);transform-origin:right center;">publishers</span>
<span class="t" id="t21" style="right:364.0px;top:375.1px;height:11px;line-height:11px;font-size:7.4px;color:#444;transform:scaleX(0.9306);transform-origin:right center;">ublish e-</span>
<span class="t" id="t22" style="right:390.0px;top:375.1px;height:11px;line-height:11px;font-size:7.4px;color:#444;transform:scaleX(1.0000);transform-origin:right center;">others that also p</span>
<span class="t" id="t23" style="right:390.0px;top:382.3px;height:11px;line-height:11px;font-size:7.4px;color:#444;transform:scaleX(1.0000);transform-origin:right center;">editions)</span>
<div id="panel"></div>
<div class="pill" style="left:18.9px;top:58.5px;width:54.1px;height:11.7px"></div>
<div class="pill" style="left:79.3px;top:58.5px;width:40.6px;height:11.7px"></div>
<div class="pill" style="left:201.4px;top:58.5px;width:57.4px;height:11.7px"></div>
<div class="pill" style="left:18.9px;top:72.2px;width:52.4px;height:11.7px"></div>
<div class="pill" style="left:97.3px;top:85.8px;width:85.8px;height:11.7px"></div>
<div class="pill" style="left:78.0px;top:113.1px;width:146.4px;height:11.7px"></div>
<span class="t" id="t24" style="left:18.2px;top:30.5px;height:24px;line-height:24px;font-size:18.4px;color:#000;transform:scaleX(0.9963);transform-origin:left center;-webkit-text-stroke:0.4px #000;">Digital Revolution</span>
<span class="t" id="t25" style="left:23.7px;top:57.1px;height:14px;line-height:14px;font-size:9.8px;color:#262626;transform:scaleX(0.9283);transform-origin:left center;">Bookstores</span>
<span class="t" id="t26" style="left:74.6px;top:57.1px;height:14px;line-height:14px;font-size:9.8px;color:#484848;transform:scaleX(1.0000);transform-origin:left center;">,</span>
<span class="t" id="t27" style="left:84.0px;top:57.1px;height:14px;line-height:14px;font-size:9.8px;color:#262626;transform:scaleX(0.9549);transform-origin:left center;">printers</span>
<span class="t" id="t28" style="left:123.5px;top:57.1px;height:14px;line-height:14px;font-size:9.8px;color:#484848;transform:scaleX(0.9983);transform-origin:left center;">and publishers of</span>
<span class="t" id="t29" style="left:205.7px;top:57.1px;height:14px;line-height:14px;font-size:9.8px;color:#262626;transform:scaleX(0.9200);transform-origin:left center;">newspapers</span>
<span class="t" id="t30" style="left:262.0px;top:57.1px;height:14px;line-height:14px;font-size:9.8px;color:#484848;transform:scaleX(0.9780);transform-origin:left center;">and</span>
<span class="t" id="t31" style="left:23.7px;top:70.8px;height:14px;line-height:14px;font-size:9.8px;color:#262626;transform:scaleX(0.9242);transform-origin:left center;">magazines</span>
<span class="t" id="t32" style="left:75.0px;top:70.8px;height:14px;line-height:14px;font-size:9.8px;color:#484848;transform:scaleX(1.0256);transform-origin:left center;">have lost a combined 400,000 jobs since the</span>
<span class="t" id="t33" style="left:18.9px;top:84.4px;height:14px;line-height:14px;font-size:9.8px;color:#484848;transform:scaleX(0.9997);transform-origin:left center;">recession began.</span>
<span class="t" id="t34" style="left:101.9px;top:84.4px;height:14px;line-height:14px;font-size:9.8px;color:#262626;transform:scaleX(0.9540);transform-origin:left center;">Internet publishers</span>
<span class="t" id="t35" style="left:187.2px;top:84.4px;height:14px;line-height:14px;font-size:9.8px;color:#484848;transform:scaleX(1.0046);transform-origin:left center;">— including web-</span>
<span class="t" id="t36" style="left:18.9px;top:98.1px;height:14px;line-height:14px;font-size:9.8px;color:#484848;transform:scaleX(1.0145);transform-origin:left center;">search firms — offset only a fraction of the losses, adding</span>
<span class="t" id="t37" style="left:18.9px;top:111.7px;height:14px;line-height:14px;font-size:9.8px;color:#484848;transform:scaleX(1.0395);transform-origin:left center;">76,000 jobs.</span>
<span class="t" id="t38" style="left:82.9px;top:111.7px;height:14px;line-height:14px;font-size:9.8px;color:#262626;transform:scaleX(0.9555);transform-origin:left center;">Electronic shopping and auctions</span>
<span class="t" id="t39" style="left:228.2px;top:111.7px;height:14px;line-height:14px;font-size:9.8px;color:#484848;transform:scaleX(1.0263);transform-origin:left center;">made up the</span>
<span class="t" id="t40" style="left:18.9px;top:125.4px;height:14px;line-height:14px;font-size:9.8px;color:#484848;transform:scaleX(1.0193);transform-origin:left center;">fastest-growing industry, tripling in employment in 10 years.</span>
<span class="t" id="t41" style="left:21.0px;top:141.2px;height:11px;line-height:11px;font-size:7.6px;font-weight:bold;-webkit-text-stroke:0;color:#222;transform:scaleX(0.9514);transform-origin:left center;">NEXT »</span>
<div id="tip"></div>
<svg width="710" height="529" viewBox="0 0 710 529">
<rect x="247.7" y="401.7" width="14.9" height="69.6" fill="#fddfe0"/>
<polygon points="209.9,415.9 209.9,416.7 216.7,417.6 222.4,419.0 230.1,419.8 233.9,421.5 241.6,423.2 247.3,424.7 251.1,426.7 255.0,429.9 257.8,433.4 260.7,437.2 263.6,439.7 267.4,441.6 272.2,442.9 279.9,445.0 285.6,447.3 291.4,449.1 297.1,450.6 302.9,451.2 309.9,451.9 309.9,415.9" fill="#d92b1c" fill-opacity="0.95"/>
<polygon points="265.8,446.2 269.0,446.2 267.4,443.2" fill="#222"/>
<line x1="209.9" y1="471.6" x2="209.9" y2="474.6" stroke="#cfcfcf" stroke-width="0.8"/>
<line x1="258.4" y1="471.6" x2="258.4" y2="474.6" stroke="#cfcfcf" stroke-width="0.8"/>
<line x1="297.1" y1="471.6" x2="297.1" y2="474.6" stroke="#cfcfcf" stroke-width="0.8"/>
<line x1="244" y1="514.8" x2="262" y2="514.8" stroke="#555" stroke-width="1"/>
<polygon points="236.3,514.8 246.8,511.9 246.8,517.7" fill="#555"/>
<line x1="462.2" y1="514.8" x2="481" y2="514.8" stroke="#555" stroke-width="1"/>
<polygon points="488.8,514.8 478.3,511.9 478.3,517.7" fill="#555"/>
</svg>
<span class="t" id="t42" style="left:194.4px;top:339.6px;height:12px;line-height:12px;font-size:8.4px;font-weight:bold;-webkit-text-stroke:0;color:#000;transform:scaleX(0.9555);transform-origin:left center;">Newspaper publishers</span>
<span class="t" id="t43" style="left:194.4px;top:362.3px;height:11px;line-height:11px;font-size:7.4px;font-weight:bold;-webkit-text-stroke:0;color:#444;transform:scaleX(0.9559);transform-origin:left center;">Recession accelerated decline</span>
<span class="t" id="t44" style="left:194.4px;top:373.3px;height:11px;line-height:11px;font-size:7.4px;color:#5c5c5c;transform:scaleX(0.9998);transform-origin:left center;">Jan.&nbsp; 2010 Jobs: 260,700</span>
<span class="t" id="t45" style="left:194.4px;top:383.9px;height:11px;line-height:11px;font-size:7.4px;color:#5c5c5c;transform:scaleX(0.9936);transform-origin:left center;">Average Salary: $49,216</span>
<span class="t" id="t46" style="right:502.0px;top:404.4px;height:10px;line-height:10px;font-size:6.8px;color:#8a8a8a;transform:scaleX(0.8363);transform-origin:right center;">+10%</span>
<span class="t" id="t47" style="right:502.0px;top:412.1px;height:10px;line-height:10px;font-size:6.8px;color:#8a8a8a;transform:scaleX(0.8335);transform-origin:right center;">+0%</span>
<span class="t" id="t48" style="right:502.2px;top:466.5px;height:10px;line-height:10px;font-size:6.8px;color:#8a8a8a;transform:scaleX(0.8567);transform-origin:right center;">-70%</span>
<span class="t" id="t49" style="left:203.6px;top:474.9px;height:10px;line-height:10px;font-size:6.8px;color:#8a8a8a;transform:scaleX(0.8595);transform-origin:left center;">2004</span>
<span class="t" id="t50" style="left:251.9px;top:474.9px;height:10px;line-height:10px;font-size:6.8px;color:#8a8a8a;transform:scaleX(0.8595);transform-origin:left center;">2009</span>
<span class="t" id="t51" style="left:290.6px;top:474.9px;height:10px;line-height:10px;font-size:6.8px;color:#8a8a8a;transform:scaleX(0.8595);transform-origin:left center;">2013</span>
<span class="t" id="t52" style="left:272.0px;top:508.4px;height:12px;line-height:12px;font-size:8.6px;font-weight:bold;-webkit-text-stroke:0;color:#555;transform:scaleX(0.9296);transform-origin:left center;">Lower Wages</span>
<span class="t" id="t53" style="left:341.7px;top:508.4px;height:12px;line-height:12px;font-size:8.6px;font-weight:bold;-webkit-text-stroke:0;color:#111;transform:scaleX(0.9445);transform-origin:left center;">Industries</span>
<span class="t" id="t54" style="left:398.9px;top:508.4px;height:12px;line-height:12px;font-size:8.6px;font-weight:bold;-webkit-text-stroke:0;color:#555;transform:scaleX(0.9459);transform-origin:left center;">Higher Wages</span>
<div id="frame"></div>
</body></html>
